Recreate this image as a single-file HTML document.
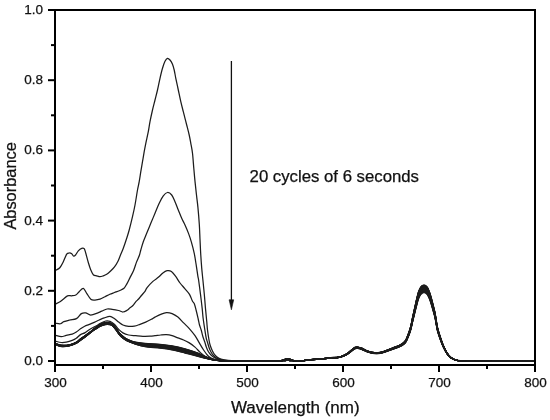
<!DOCTYPE html>
<html><head><meta charset="utf-8"><title>Absorbance spectra</title>
<style>html,body{margin:0;padding:0;background:#fff;}body{width:550px;height:420px;overflow:hidden;font-family:"Liberation Sans",sans-serif;}svg{display:block;}</style>
</head><body>
<svg width="550" height="420" viewBox="0 0 550 420" style="will-change:transform">
<rect width="550" height="420" fill="#fff"/>
<g fill="none" stroke="#1c1c1c" stroke-linejoin="round" stroke-linecap="round">
<path stroke-width="1.25" d="M55.50,343.45C56.47,343.73 58.93,344.93 61.30,345.15C63.67,345.37 67.20,345.23 69.70,344.75C72.20,344.27 74.50,343.23 76.30,342.25C78.10,341.27 79.10,339.90 80.50,338.85C81.90,337.80 83.32,336.92 84.70,335.95C86.08,334.98 87.42,334.08 88.80,333.05C90.18,332.02 91.72,330.80 93.00,329.75C94.28,328.70 95.33,327.68 96.50,326.75C97.67,325.82 98.58,324.85 100.00,324.15C101.42,323.45 103.75,322.85 105.00,322.55C106.25,322.25 106.67,322.30 107.50,322.35C108.33,322.40 109.20,322.57 110.00,322.85C110.80,323.13 111.30,323.18 112.30,324.05C113.30,324.92 114.80,326.55 116.00,328.05C117.20,329.55 118.33,331.67 119.50,333.05C120.67,334.43 121.78,335.37 123.00,336.35C124.22,337.33 124.95,338.03 126.80,338.95C128.65,339.87 131.07,341.10 134.10,341.85C137.13,342.60 140.68,343.05 145.00,343.45C149.32,343.85 155.50,343.87 160.00,344.25C164.50,344.63 167.83,345.00 172.00,345.75C176.17,346.50 180.67,347.53 185.00,348.75C189.33,349.97 194.67,351.75 198.00,353.05C201.33,354.35 202.67,355.53 205.00,356.55C207.33,357.57 209.50,358.48 212.00,359.15C214.50,359.82 217.00,360.26 220.00,360.55C223.00,360.84 226.67,360.88 230.00,360.90C233.33,360.92 236.67,360.70 240.00,360.66C243.33,360.62 246.67,360.68 250.00,360.66C253.33,360.65 256.67,360.57 260.00,360.57C263.33,360.57 267.33,360.65 270.00,360.66C272.67,360.67 274.33,360.65 276.00,360.66C277.67,360.67 279.17,360.71 280.00,360.74C280.83,360.76 280.50,360.81 281.00,360.81C281.50,360.81 282.33,360.76 283.00,360.73C283.67,360.69 284.42,360.62 285.00,360.58C285.58,360.54 286.07,360.51 286.50,360.49C286.93,360.47 287.23,360.47 287.60,360.47C287.97,360.47 288.30,360.47 288.70,360.49C289.10,360.51 289.42,360.53 290.00,360.57C290.58,360.61 291.50,360.69 292.20,360.73C292.90,360.77 293.57,360.75 294.20,360.81C294.83,360.87 294.73,361.10 296.00,361.10C297.27,361.11 299.62,361.02 301.80,360.84C303.98,360.66 306.67,360.27 309.10,360.03C311.53,359.79 313.98,359.59 316.40,359.40C318.82,359.21 321.18,359.09 323.60,358.86C326.02,358.63 328.47,358.26 330.90,358.05C333.33,357.84 336.27,357.85 338.20,357.60C340.13,357.34 341.05,357.03 342.50,356.52C343.95,356.01 345.43,355.41 346.90,354.54C348.37,353.67 349.97,352.26 351.30,351.30C352.63,350.34 353.87,349.26 354.90,348.78C355.93,348.30 356.35,348.30 357.50,348.42C358.65,348.54 360.17,348.92 361.80,349.50C363.43,350.08 365.48,351.30 367.30,351.93C369.12,352.56 370.88,353.01 372.70,353.28C374.52,353.55 376.38,353.69 378.20,353.55C380.02,353.42 382.22,352.82 383.60,352.47C384.98,352.12 384.92,352.03 386.50,351.48C388.08,350.92 390.92,349.92 393.10,349.14C395.28,348.36 397.85,347.58 399.60,346.80C401.35,346.02 402.50,345.35 403.60,344.46C404.70,343.58 405.33,342.98 406.20,341.49C407.07,340.00 408.03,337.51 408.80,335.55C409.57,333.59 410.15,332.06 410.80,329.70C411.45,327.34 412.05,324.17 412.70,321.42C413.35,318.68 414.03,315.93 414.70,313.23C415.37,310.53 416.07,307.61 416.70,305.22C417.33,302.84 417.87,300.65 418.50,298.92C419.13,297.19 419.83,295.85 420.50,294.87C421.17,293.89 421.92,293.44 422.50,293.07C423.08,292.69 423.50,292.62 424.00,292.62C424.50,292.62 424.92,292.69 425.50,293.07C426.08,293.44 426.82,293.82 427.50,294.87C428.18,295.92 428.95,297.72 429.60,299.37C430.25,301.02 430.80,302.82 431.40,304.77C432.00,306.72 432.60,308.91 433.20,311.07C433.80,313.23 434.47,315.34 435.00,317.73C435.53,320.11 435.98,323.17 436.40,325.38C436.82,327.59 436.88,328.70 437.50,330.96C438.12,333.23 439.13,336.29 440.10,338.97C441.07,341.66 442.13,344.58 443.30,347.07C444.47,349.56 445.83,352.11 447.10,353.91C448.37,355.71 449.42,356.82 450.90,357.87C452.38,358.92 453.88,359.69 456.00,360.21C458.12,360.74 461.27,360.84 463.60,361.02C465.93,361.20 467.27,361.26 470.00,361.29C472.73,361.32 475.00,361.20 480.00,361.20C485.00,361.20 493.33,361.26 500.00,361.29C506.67,361.32 514.33,361.35 520.00,361.38C525.67,361.41 531.67,361.46 534.00,361.47"/>
<path stroke-width="1.25" d="M55.50,343.53C56.47,343.82 58.93,345.04 61.30,345.26C63.67,345.47 67.20,345.32 69.70,344.83C72.20,344.34 74.50,343.31 76.30,342.33C78.10,341.35 79.10,340.00 80.50,338.96C81.90,337.91 83.32,337.03 84.70,336.06C86.08,335.09 87.42,334.17 88.80,333.13C90.18,332.09 91.72,330.87 93.00,329.83C94.28,328.79 95.33,327.81 96.50,326.90C97.67,325.98 98.58,325.03 100.00,324.33C101.42,323.64 103.75,323.02 105.00,322.72C106.25,322.42 106.67,322.47 107.50,322.51C108.33,322.56 109.20,322.72 110.00,323.00C110.80,323.27 111.30,323.31 112.30,324.17C113.30,325.04 114.80,326.69 116.00,328.20C117.20,329.70 118.33,331.81 119.50,333.20C120.67,334.58 121.78,335.51 123.00,336.50C124.22,337.48 124.95,338.17 126.80,339.09C128.65,340.00 131.07,341.22 134.10,341.99C137.13,342.76 140.68,343.27 145.00,343.70C149.32,344.12 155.50,344.15 160.00,344.54C164.50,344.94 167.83,345.31 172.00,346.07C176.17,346.82 180.67,347.87 185.00,349.08C189.33,350.29 194.67,352.04 198.00,353.30C201.33,354.57 202.67,355.70 205.00,356.68C207.33,357.66 209.50,358.54 212.00,359.19C214.50,359.83 217.00,360.27 220.00,360.56C223.00,360.84 226.67,360.88 230.00,360.90C233.33,360.92 236.67,360.70 240.00,360.66C243.33,360.61 246.67,360.67 250.00,360.66C253.33,360.64 256.67,360.56 260.00,360.56C263.33,360.56 267.33,360.64 270.00,360.66C272.67,360.67 274.33,360.65 276.00,360.65C277.67,360.66 279.17,360.68 280.00,360.69C280.83,360.70 280.50,360.76 281.00,360.71C281.50,360.66 282.33,360.53 283.00,360.38C283.67,360.23 284.42,359.96 285.00,359.80C285.58,359.64 286.07,359.50 286.50,359.42C286.93,359.34 287.23,359.32 287.60,359.32C287.97,359.32 288.30,359.35 288.70,359.42C289.10,359.49 289.42,359.58 290.00,359.74C290.58,359.90 291.50,360.22 292.20,360.38C292.90,360.54 293.57,360.59 294.20,360.71C294.83,360.83 294.73,361.06 296.00,361.08C297.27,361.10 299.62,361.01 301.80,360.84C303.98,360.66 306.67,360.26 309.10,360.02C311.53,359.78 313.98,359.58 316.40,359.38C318.82,359.19 321.18,359.07 323.60,358.84C326.02,358.61 328.47,358.23 330.90,358.02C333.33,357.81 336.27,357.83 338.20,357.57C340.13,357.31 341.05,356.99 342.50,356.48C343.95,355.97 345.43,355.36 346.90,354.48C348.37,353.61 349.97,352.18 351.30,351.22C352.63,350.25 353.87,349.16 354.90,348.67C355.93,348.19 356.35,348.19 357.50,348.31C358.65,348.43 360.17,348.81 361.80,349.40C363.43,349.99 365.48,351.22 367.30,351.85C369.12,352.49 370.88,352.94 372.70,353.21C374.52,353.48 376.38,353.62 378.20,353.48C380.02,353.35 382.22,352.74 383.60,352.40C384.98,352.05 384.92,351.96 386.50,351.40C388.08,350.84 390.92,349.82 393.10,349.04C395.28,348.25 397.85,347.46 399.60,346.68C401.35,345.89 402.50,345.21 403.60,344.32C404.70,343.42 405.33,342.82 406.20,341.32C407.07,339.82 408.03,337.31 408.80,335.33C409.57,333.35 410.15,331.81 410.80,329.43C411.45,327.06 412.05,323.85 412.70,321.08C413.35,318.31 414.03,315.54 414.70,312.82C415.37,310.10 416.07,307.15 416.70,304.74C417.33,302.34 417.87,300.13 418.50,298.39C419.13,296.65 419.83,295.29 420.50,294.30C421.17,293.32 421.92,292.87 422.50,292.49C423.08,292.11 423.50,292.03 424.00,292.03C424.50,292.03 424.92,292.11 425.50,292.49C426.08,292.87 426.82,293.24 427.50,294.30C428.18,295.36 428.95,297.18 429.60,298.84C430.25,300.51 430.80,302.32 431.40,304.29C432.00,306.25 432.60,308.46 433.20,310.64C433.80,312.82 434.47,314.95 435.00,317.36C435.53,319.76 435.98,322.85 436.40,325.07C436.82,327.30 436.88,328.42 437.50,330.70C438.12,332.99 439.13,336.07 440.10,338.78C441.07,341.49 442.13,344.44 443.30,346.95C444.47,349.46 445.83,352.03 447.10,353.85C448.37,355.66 449.42,356.78 450.90,357.84C452.38,358.90 453.88,359.67 456.00,360.20C458.12,360.73 461.27,360.84 463.60,361.02C465.93,361.20 467.27,361.26 470.00,361.29C472.73,361.32 475.00,361.20 480.00,361.20C485.00,361.20 493.33,361.26 500.00,361.29C506.67,361.32 514.33,361.35 520.00,361.38C525.67,361.41 531.67,361.46 534.00,361.47"/>
<path stroke-width="1.25" d="M55.50,343.60C56.47,343.90 58.93,345.15 61.30,345.37C63.67,345.58 67.20,345.40 69.70,344.90C72.20,344.41 74.50,343.38 76.30,342.40C78.10,341.43 79.10,340.11 80.50,339.07C81.90,338.03 83.32,337.14 84.70,336.17C86.08,335.19 87.42,334.25 88.80,333.20C90.18,332.16 91.72,330.93 93.00,329.90C94.28,328.88 95.33,327.94 96.50,327.04C97.67,326.14 98.58,325.21 100.00,324.52C101.42,323.83 103.75,323.20 105.00,322.89C106.25,322.58 106.67,322.63 107.50,322.67C108.33,322.72 109.20,322.87 110.00,323.14C110.80,323.41 111.30,323.43 112.30,324.30C113.30,325.16 114.80,326.83 116.00,328.34C117.20,329.85 118.33,331.96 119.50,333.34C120.67,334.73 121.78,335.66 123.00,336.64C124.22,337.62 124.95,338.31 126.80,339.23C128.65,340.14 131.07,341.34 134.10,342.13C137.13,342.91 140.68,343.49 145.00,343.94C149.32,344.39 155.50,344.43 160.00,344.83C164.50,345.24 167.83,345.62 172.00,346.38C176.17,347.14 180.67,348.22 185.00,349.41C189.33,350.61 194.67,352.32 198.00,353.56C201.33,354.79 202.67,355.87 205.00,356.81C207.33,357.76 209.50,358.60 212.00,359.23C214.50,359.85 217.00,360.29 220.00,360.57C223.00,360.84 226.67,360.89 230.00,360.90C233.33,360.91 236.67,360.69 240.00,360.65C243.33,360.61 246.67,360.67 250.00,360.65C253.33,360.64 256.67,360.56 260.00,360.56C263.33,360.56 267.33,360.64 270.00,360.65C272.67,360.67 274.33,360.64 276.00,360.65C277.67,360.66 279.17,360.70 280.00,360.73C280.83,360.75 280.50,360.80 281.00,360.80C281.50,360.80 282.33,360.76 283.00,360.72C283.67,360.68 284.42,360.62 285.00,360.58C285.58,360.54 286.07,360.50 286.50,360.48C286.93,360.46 287.23,360.46 287.60,360.46C287.97,360.46 288.30,360.47 288.70,360.48C289.10,360.50 289.42,360.52 290.00,360.56C290.58,360.60 291.50,360.68 292.20,360.72C292.90,360.76 293.57,360.74 294.20,360.80C294.83,360.87 294.73,361.10 296.00,361.10C297.27,361.11 299.62,361.02 301.80,360.83C303.98,360.65 306.67,360.25 309.10,360.01C311.53,359.77 313.98,359.57 316.40,359.37C318.82,359.17 321.18,359.05 323.60,358.82C326.02,358.59 328.47,358.21 330.90,358.00C333.33,357.78 336.27,357.80 338.20,357.54C340.13,357.28 341.05,356.96 342.50,356.44C343.95,355.92 345.43,355.31 346.90,354.43C348.37,353.54 349.97,352.11 351.30,351.13C352.63,350.15 353.87,349.06 354.90,348.57C355.93,348.08 356.35,348.08 357.50,348.20C358.65,348.32 360.17,348.71 361.80,349.30C363.43,349.89 365.48,351.13 367.30,351.77C369.12,352.41 370.88,352.87 372.70,353.14C374.52,353.42 376.38,353.56 378.20,353.42C380.02,353.28 382.22,352.67 383.60,352.32C384.98,351.97 384.92,351.88 386.50,351.31C388.08,350.75 390.92,349.73 393.10,348.93C395.28,348.14 397.85,347.35 399.60,346.55C401.35,345.76 402.50,345.07 403.60,344.17C404.70,343.27 405.33,342.66 406.20,341.15C407.07,339.64 408.03,337.11 408.80,335.11C409.57,333.11 410.15,331.56 410.80,329.16C411.45,326.77 412.05,323.53 412.70,320.74C413.35,317.95 414.03,315.16 414.70,312.41C415.37,309.66 416.07,306.69 416.70,304.26C417.33,301.84 417.87,299.61 418.50,297.86C419.13,296.10 419.83,294.73 420.50,293.74C421.17,292.74 421.92,292.29 422.50,291.91C423.08,291.52 423.50,291.45 424.00,291.45C424.50,291.45 424.92,291.52 425.50,291.91C426.08,292.29 426.82,292.67 427.50,293.74C428.18,294.80 428.95,296.63 429.60,298.31C430.25,299.99 430.80,301.82 431.40,303.81C432.00,305.79 432.60,308.02 433.20,310.21C433.80,312.41 434.47,314.56 435.00,316.99C435.53,319.41 435.98,322.52 436.40,324.77C436.82,327.01 436.88,328.14 437.50,330.44C438.12,332.75 439.13,335.86 440.10,338.59C441.07,341.32 442.13,344.30 443.30,346.83C444.47,349.36 445.83,351.95 447.10,353.79C448.37,355.62 449.42,356.75 450.90,357.81C452.38,358.88 453.88,359.66 456.00,360.19C458.12,360.73 461.27,360.83 463.60,361.02C465.93,361.20 467.27,361.26 470.00,361.29C472.73,361.32 475.00,361.20 480.00,361.20C485.00,361.20 493.33,361.26 500.00,361.29C506.67,361.32 514.33,361.35 520.00,361.38C525.67,361.41 531.67,361.46 534.00,361.47"/>
<path stroke-width="1.25" d="M55.50,343.68C56.47,343.98 58.93,345.26 61.30,345.47C63.67,345.69 67.20,345.48 69.70,344.98C72.20,344.48 74.50,343.45 76.30,342.48C78.10,341.51 79.10,340.21 80.50,339.17C81.90,338.14 83.32,337.26 84.70,336.27C86.08,335.29 87.42,334.33 88.80,333.28C90.18,332.23 91.72,331.00 93.00,329.98C94.28,328.97 95.33,328.07 96.50,327.19C97.67,326.31 98.58,325.39 100.00,324.70C101.42,324.02 103.75,323.37 105.00,323.06C106.25,322.75 106.67,322.80 107.50,322.83C108.33,322.87 109.20,323.02 110.00,323.29C110.80,323.55 111.30,323.55 112.30,324.42C113.30,325.29 114.80,326.98 116.00,328.49C117.20,330.00 118.33,332.11 119.50,333.49C120.67,334.87 121.78,335.81 123.00,336.79C124.22,337.77 124.95,338.45 126.80,339.37C128.65,340.28 131.07,341.46 134.10,342.27C137.13,343.07 140.68,343.71 145.00,344.19C149.32,344.67 155.50,344.71 160.00,345.13C164.50,345.54 167.83,345.93 172.00,346.70C176.17,347.47 180.67,348.56 185.00,349.74C189.33,350.93 194.67,352.61 198.00,353.81C201.33,355.01 202.67,356.03 205.00,356.94C207.33,357.85 209.50,358.66 212.00,359.27C214.50,359.87 217.00,360.30 220.00,360.57C223.00,360.85 226.67,360.89 230.00,360.90C233.33,360.91 236.67,360.69 240.00,360.65C243.33,360.60 246.67,360.66 250.00,360.65C253.33,360.63 256.67,360.55 260.00,360.55C263.33,360.55 267.33,360.63 270.00,360.65C272.67,360.66 274.33,360.64 276.00,360.65C277.67,360.65 279.17,360.67 280.00,360.68C280.83,360.69 280.50,360.75 281.00,360.70C281.50,360.65 282.33,360.52 283.00,360.37C283.67,360.22 284.42,359.96 285.00,359.80C285.58,359.64 286.07,359.49 286.50,359.41C286.93,359.33 287.23,359.31 287.60,359.31C287.97,359.31 288.30,359.34 288.70,359.41C289.10,359.48 289.42,359.57 290.00,359.73C290.58,359.89 291.50,360.21 292.20,360.37C292.90,360.53 293.57,360.58 294.20,360.70C294.83,360.82 294.73,361.06 296.00,361.08C297.27,361.10 299.62,361.01 301.80,360.83C303.98,360.65 306.67,360.25 309.10,360.00C311.53,359.75 313.98,359.55 316.40,359.35C318.82,359.15 321.18,359.03 323.60,358.80C326.02,358.57 328.47,358.18 330.90,357.97C333.33,357.75 336.27,357.77 338.20,357.51C340.13,357.25 341.05,356.92 342.50,356.40C343.95,355.88 345.43,355.26 346.90,354.37C348.37,353.48 349.97,352.03 351.30,351.05C352.63,350.06 353.87,348.95 354.90,348.46C355.93,347.97 356.35,347.97 357.50,348.09C358.65,348.22 360.17,348.60 361.80,349.20C363.43,349.80 365.48,351.05 367.30,351.69C369.12,352.34 370.88,352.80 372.70,353.08C374.52,353.35 376.38,353.49 378.20,353.35C380.02,353.22 382.22,352.60 383.60,352.25C384.98,351.89 384.92,351.80 386.50,351.23C388.08,350.66 390.92,349.63 393.10,348.83C395.28,348.03 397.85,347.23 399.60,346.43C401.35,345.63 402.50,344.94 403.60,344.03C404.70,343.12 405.33,342.51 406.20,340.98C407.07,339.46 408.03,336.91 408.80,334.89C409.57,332.88 410.15,331.31 410.80,328.89C411.45,326.48 412.05,323.22 412.70,320.40C413.35,317.58 414.03,314.77 414.70,312.00C415.37,309.23 416.07,306.23 416.70,303.78C417.33,301.34 417.87,299.09 418.50,297.32C419.13,295.55 419.83,294.17 420.50,293.17C421.17,292.17 421.92,291.71 422.50,291.32C423.08,290.94 423.50,290.86 424.00,290.86C424.50,290.86 424.92,290.94 425.50,291.32C426.08,291.71 426.82,292.09 427.50,293.17C428.18,294.25 428.95,296.09 429.60,297.78C430.25,299.48 430.80,301.32 431.40,303.32C432.00,305.32 432.60,307.57 433.20,309.78C433.80,312.00 434.47,314.17 435.00,316.62C435.53,319.06 435.98,322.20 436.40,324.46C436.82,326.72 436.88,327.86 437.50,330.18C438.12,332.51 439.13,335.65 440.10,338.40C441.07,341.15 442.13,344.15 443.30,346.71C444.47,349.26 445.83,351.88 447.10,353.72C448.37,355.57 449.42,356.71 450.90,357.78C452.38,358.86 453.88,359.65 456.00,360.18C458.12,360.72 461.27,360.83 463.60,361.02C465.93,361.20 467.27,361.26 470.00,361.29C472.73,361.32 475.00,361.20 480.00,361.20C485.00,361.20 493.33,361.26 500.00,361.29C506.67,361.32 514.33,361.35 520.00,361.38C525.67,361.42 531.67,361.46 534.00,361.48"/>
<path stroke-width="1.25" d="M55.50,343.76C56.47,344.06 58.93,345.36 61.30,345.58C63.67,345.80 67.20,345.56 69.70,345.06C72.20,344.55 74.50,343.52 76.30,342.56C78.10,341.59 79.10,340.31 80.50,339.28C81.90,338.25 83.32,337.37 84.70,336.38C86.08,335.39 87.42,334.41 88.80,333.36C90.18,332.30 91.72,331.06 93.00,330.06C94.28,329.05 95.33,328.20 96.50,327.33C97.67,326.47 98.58,325.57 100.00,324.89C101.42,324.20 103.75,323.54 105.00,323.23C106.25,322.91 106.67,322.96 107.50,323.00C108.33,323.03 109.20,323.18 110.00,323.43C110.80,323.69 111.30,323.68 112.30,324.54C113.30,325.41 114.80,327.12 116.00,328.63C117.20,330.15 118.33,332.25 119.50,333.63C120.67,335.02 121.78,335.96 123.00,336.93C124.22,337.91 124.95,338.59 126.80,339.50C128.65,340.42 131.07,341.58 134.10,342.40C137.13,343.23 140.68,343.93 145.00,344.43C149.32,344.94 155.50,344.99 160.00,345.42C164.50,345.85 167.83,346.24 172.00,347.01C176.17,347.79 180.67,348.90 185.00,350.07C189.33,351.25 194.67,352.90 198.00,354.07C201.33,355.23 202.67,356.20 205.00,357.07C207.33,357.95 209.50,358.72 212.00,359.30C214.50,359.89 217.00,360.31 220.00,360.58C223.00,360.85 226.67,360.89 230.00,360.90C233.33,360.91 236.67,360.68 240.00,360.64C243.33,360.60 246.67,360.66 250.00,360.64C253.33,360.63 256.67,360.55 260.00,360.55C263.33,360.55 267.33,360.63 270.00,360.64C272.67,360.66 274.33,360.63 276.00,360.64C277.67,360.65 279.17,360.69 280.00,360.72C280.83,360.75 280.50,360.80 281.00,360.80C281.50,360.79 282.33,360.75 283.00,360.71C283.67,360.68 284.42,360.61 285.00,360.57C285.58,360.53 286.07,360.50 286.50,360.48C286.93,360.46 287.23,360.45 287.60,360.45C287.97,360.45 288.30,360.46 288.70,360.48C289.10,360.49 289.42,360.52 290.00,360.56C290.58,360.60 291.50,360.67 292.20,360.71C292.90,360.75 293.57,360.73 294.20,360.80C294.83,360.86 294.73,361.09 296.00,361.10C297.27,361.11 299.62,361.01 301.80,360.83C303.98,360.64 306.67,360.24 309.10,359.99C311.53,359.74 313.98,359.54 316.40,359.34C318.82,359.14 321.18,359.01 323.60,358.78C326.02,358.55 328.47,358.16 330.90,357.94C333.33,357.73 336.27,357.74 338.20,357.48C340.13,357.21 341.05,356.89 342.50,356.36C343.95,355.83 345.43,355.21 346.90,354.31C348.37,353.41 349.97,351.95 351.30,350.96C352.63,349.97 353.87,348.85 354.90,348.36C355.93,347.86 356.35,347.86 357.50,347.98C358.65,348.11 360.17,348.49 361.80,349.10C363.43,349.70 365.48,350.96 367.30,351.61C369.12,352.26 370.88,352.73 372.70,353.01C374.52,353.29 376.38,353.43 378.20,353.29C380.02,353.15 382.22,352.53 383.60,352.17C384.98,351.81 384.92,351.72 386.50,351.15C388.08,350.57 390.92,349.53 393.10,348.73C395.28,347.92 397.85,347.11 399.60,346.31C401.35,345.50 402.50,344.80 403.60,343.89C404.70,342.97 405.33,342.35 406.20,340.82C407.07,339.28 408.03,336.71 408.80,334.67C409.57,332.64 410.15,331.06 410.80,328.62C411.45,326.19 412.05,322.90 412.70,320.06C413.35,317.22 414.03,314.38 414.70,311.59C415.37,308.80 416.07,305.77 416.70,303.31C417.33,300.84 417.87,298.57 418.50,296.79C419.13,295.01 419.83,293.61 420.50,292.60C421.17,291.59 421.92,291.13 422.50,290.74C423.08,290.35 423.50,290.28 424.00,290.28C424.50,290.28 424.92,290.35 425.50,290.74C426.08,291.13 426.82,291.52 427.50,292.60C428.18,293.69 428.95,295.55 429.60,297.26C430.25,298.96 430.80,300.82 431.40,302.84C432.00,304.86 432.60,307.12 433.20,309.36C433.80,311.59 434.47,313.78 435.00,316.24C435.53,318.71 435.98,321.88 436.40,324.16C436.82,326.44 436.88,327.58 437.50,329.93C438.12,332.27 439.13,335.43 440.10,338.21C441.07,340.99 442.13,344.01 443.30,346.59C444.47,349.16 445.83,351.80 447.10,353.66C448.37,355.52 449.42,356.67 450.90,357.76C452.38,358.84 453.88,359.63 456.00,360.18C458.12,360.72 461.27,360.83 463.60,361.01C465.93,361.20 467.27,361.26 470.00,361.29C472.73,361.32 475.00,361.20 480.00,361.20C485.00,361.20 493.33,361.26 500.00,361.29C506.67,361.32 514.33,361.36 520.00,361.39C525.67,361.42 531.67,361.46 534.00,361.48"/>
<path stroke-width="1.25" d="M55.50,343.83C56.47,344.14 58.93,345.47 61.30,345.69C63.67,345.91 67.20,345.64 69.70,345.13C72.20,344.63 74.50,343.59 76.30,342.63C78.10,341.68 79.10,340.41 80.50,339.39C81.90,338.36 83.32,337.48 84.70,336.49C86.08,335.50 87.42,334.49 88.80,333.43C90.18,332.38 91.72,331.13 93.00,330.13C94.28,329.14 95.33,328.32 96.50,327.48C97.67,326.64 98.58,325.75 100.00,325.07C101.42,324.39 103.75,323.72 105.00,323.40C106.25,323.08 106.67,323.13 107.50,323.16C108.33,323.19 109.20,323.33 110.00,323.58C110.80,323.83 111.30,323.80 112.30,324.67C113.30,325.53 114.80,327.26 116.00,328.78C117.20,330.30 118.33,332.40 119.50,333.78C120.67,335.16 121.78,336.10 123.00,337.08C124.22,338.06 124.95,338.73 126.80,339.64C128.65,340.55 131.07,341.70 134.10,342.54C137.13,343.38 140.68,344.15 145.00,344.68C149.32,345.21 155.50,345.27 160.00,345.71C164.50,346.15 167.83,346.54 172.00,347.33C176.17,348.11 180.67,349.24 185.00,350.40C189.33,351.57 194.67,353.19 198.00,354.32C201.33,355.45 202.67,356.37 205.00,357.20C207.33,358.04 209.50,358.78 212.00,359.34C214.50,359.91 217.00,360.33 220.00,360.59C223.00,360.85 226.67,360.89 230.00,360.90C233.33,360.91 236.67,360.68 240.00,360.64C243.33,360.59 246.67,360.65 250.00,360.64C253.33,360.62 256.67,360.54 260.00,360.54C263.33,360.54 267.33,360.62 270.00,360.64C272.67,360.65 274.33,360.63 276.00,360.64C277.67,360.64 279.17,360.66 280.00,360.67C280.83,360.68 280.50,360.75 281.00,360.70C281.50,360.64 282.33,360.52 283.00,360.37C283.67,360.22 284.42,359.95 285.00,359.79C285.58,359.63 286.07,359.49 286.50,359.41C286.93,359.33 287.23,359.31 287.60,359.31C287.97,359.31 288.30,359.34 288.70,359.41C289.10,359.48 289.42,359.57 290.00,359.73C290.58,359.89 291.50,360.21 292.20,360.37C292.90,360.53 293.57,360.58 294.20,360.70C294.83,360.81 294.73,361.06 296.00,361.08C297.27,361.10 299.62,361.01 301.80,360.82C303.98,360.64 306.67,360.23 309.10,359.98C311.53,359.73 313.98,359.53 316.40,359.32C318.82,359.12 321.18,358.99 323.60,358.76C326.02,358.53 328.47,358.13 330.90,357.92C333.33,357.70 336.27,357.71 338.20,357.45C340.13,357.18 341.05,356.85 342.50,356.32C343.95,355.79 345.43,355.16 346.90,354.26C348.37,353.35 349.97,351.88 351.30,350.88C352.63,349.88 353.87,348.75 354.90,348.25C355.93,347.75 356.35,347.75 357.50,347.87C358.65,348.00 360.17,348.39 361.80,349.00C363.43,349.61 365.48,350.88 367.30,351.53C369.12,352.19 370.88,352.66 372.70,352.94C374.52,353.22 376.38,353.36 378.20,353.22C380.02,353.08 382.22,352.46 383.60,352.10C384.98,351.74 384.92,351.64 386.50,351.06C388.08,350.49 390.92,349.44 393.10,348.62C395.28,347.81 397.85,347.00 399.60,346.18C401.35,345.37 402.50,344.67 403.60,343.74C404.70,342.82 405.33,342.20 406.20,340.65C407.07,339.10 408.03,336.50 408.80,334.45C409.57,332.40 410.15,330.81 410.80,328.35C411.45,325.90 412.05,322.58 412.70,319.72C413.35,316.86 414.03,314.00 414.70,311.18C415.37,308.36 416.07,305.31 416.70,302.83C417.33,300.34 417.87,298.06 418.50,296.26C419.13,294.46 419.83,293.05 420.50,292.04C421.17,291.02 421.92,290.55 422.50,290.16C423.08,289.77 423.50,289.69 424.00,289.69C424.50,289.69 424.92,289.77 425.50,290.16C426.08,290.55 426.82,290.94 427.50,292.04C428.18,293.13 428.95,295.01 429.60,296.73C430.25,298.45 430.80,300.33 431.40,302.36C432.00,304.39 432.60,306.68 433.20,308.93C433.80,311.18 434.47,313.39 435.00,315.87C435.53,318.36 435.98,321.55 436.40,323.85C436.82,326.15 436.88,327.31 437.50,329.67C438.12,332.03 439.13,335.22 440.10,338.02C441.07,340.82 442.13,343.87 443.30,346.47C444.47,349.06 445.83,351.72 447.10,353.60C448.37,355.48 449.42,356.63 450.90,357.73C452.38,358.82 453.88,359.62 456.00,360.17C458.12,360.72 461.27,360.82 463.60,361.01C465.93,361.20 467.27,361.26 470.00,361.29C472.73,361.33 475.00,361.20 480.00,361.20C485.00,361.20 493.33,361.26 500.00,361.29C506.67,361.33 514.33,361.36 520.00,361.39C525.67,361.42 531.67,361.47 534.00,361.48"/>
<path stroke-width="1.25" d="M55.50,343.91C56.47,344.23 58.93,345.58 61.30,345.80C63.67,346.01 67.20,345.73 69.70,345.21C72.20,344.70 74.50,343.66 76.30,342.71C78.10,341.76 79.10,340.52 80.50,339.50C81.90,338.48 83.32,337.59 84.70,336.60C86.08,335.60 87.42,334.58 88.80,333.51C90.18,332.45 91.72,331.19 93.00,330.21C94.28,329.23 95.33,328.45 96.50,327.63C97.67,326.80 98.58,325.93 100.00,325.26C101.42,324.58 103.75,323.89 105.00,323.57C106.25,323.24 106.67,323.29 107.50,323.32C108.33,323.35 109.20,323.48 110.00,323.73C110.80,323.97 111.30,323.92 112.30,324.79C113.30,325.66 114.80,327.40 116.00,328.93C117.20,330.45 118.33,332.54 119.50,333.93C120.67,335.31 121.78,336.25 123.00,337.23C124.22,338.20 124.95,338.87 126.80,339.78C128.65,340.69 131.07,341.82 134.10,342.68C137.13,343.54 140.68,344.37 145.00,344.93C149.32,345.48 155.50,345.55 160.00,346.00C164.50,346.46 167.83,346.85 172.00,347.64C176.17,348.43 180.67,349.58 185.00,350.73C189.33,351.89 194.67,353.47 198.00,354.57C201.33,355.67 202.67,356.53 205.00,357.33C207.33,358.14 209.50,358.84 212.00,359.38C214.50,359.92 217.00,360.34 220.00,360.60C223.00,360.85 226.67,360.89 230.00,360.90C233.33,360.91 236.67,360.68 240.00,360.63C243.33,360.59 246.67,360.65 250.00,360.63C253.33,360.62 256.67,360.54 260.00,360.54C263.33,360.54 267.33,360.62 270.00,360.63C272.67,360.65 274.33,360.62 276.00,360.63C277.67,360.65 279.17,360.69 280.00,360.71C280.83,360.74 280.50,360.79 281.00,360.79C281.50,360.79 282.33,360.75 283.00,360.71C283.67,360.67 284.42,360.61 285.00,360.57C285.58,360.53 286.07,360.49 286.50,360.47C286.93,360.45 287.23,360.45 287.60,360.45C287.97,360.45 288.30,360.45 288.70,360.47C289.10,360.49 289.42,360.51 290.00,360.55C290.58,360.59 291.50,360.67 292.20,360.71C292.90,360.75 293.57,360.72 294.20,360.79C294.83,360.85 294.73,361.09 296.00,361.10C297.27,361.10 299.62,361.01 301.80,360.82C303.98,360.63 306.67,360.22 309.10,359.97C311.53,359.72 313.98,359.51 316.40,359.31C318.82,359.10 321.18,358.98 323.60,358.74C326.02,358.50 328.47,358.11 330.90,357.89C333.33,357.67 336.27,357.68 338.20,357.42C340.13,357.15 341.05,356.82 342.50,356.28C343.95,355.74 345.43,355.11 346.90,354.20C348.37,353.28 349.97,351.80 351.30,350.79C352.63,349.78 353.87,348.65 354.90,348.14C355.93,347.64 356.35,347.64 357.50,347.76C358.65,347.89 360.17,348.28 361.80,348.90C363.43,349.51 365.48,350.79 367.30,351.45C369.12,352.12 370.88,352.59 372.70,352.87C374.52,353.16 376.38,353.30 378.20,353.16C380.02,353.02 382.22,352.38 383.60,352.02C384.98,351.66 384.92,351.56 386.50,350.98C388.08,350.40 390.92,349.34 393.10,348.52C395.28,347.70 397.85,346.88 399.60,346.06C401.35,345.24 402.50,344.53 403.60,343.60C404.70,342.67 405.33,342.04 406.20,340.48C407.07,338.92 408.03,336.30 408.80,334.23C409.57,332.17 410.15,330.56 410.80,328.08C411.45,325.61 412.05,322.27 412.70,319.38C413.35,316.49 414.03,313.61 414.70,310.77C415.37,307.93 416.07,304.86 416.70,302.35C417.33,299.84 417.87,297.54 418.50,295.73C419.13,293.91 419.83,292.49 420.50,291.47C421.17,290.44 421.92,289.97 422.50,289.58C423.08,289.18 423.50,289.10 424.00,289.10C424.50,289.10 424.92,289.18 425.50,289.58C426.08,289.97 426.82,290.36 427.50,291.47C428.18,292.57 428.95,294.46 429.60,296.20C430.25,297.93 430.80,299.83 431.40,301.88C432.00,303.93 432.60,306.23 433.20,308.50C433.80,310.77 434.47,312.99 435.00,315.50C435.53,318.01 435.98,321.22 436.40,323.54C436.82,325.86 436.88,327.03 437.50,329.41C438.12,331.79 439.13,335.01 440.10,337.83C441.07,340.65 442.13,343.73 443.30,346.35C444.47,348.96 445.83,351.64 447.10,353.54C448.37,355.43 449.42,356.60 450.90,357.70C452.38,358.80 453.88,359.61 456.00,360.16C458.12,360.71 461.27,360.82 463.60,361.01C465.93,361.20 467.27,361.26 470.00,361.29C472.73,361.33 475.00,361.20 480.00,361.20C485.00,361.20 493.33,361.26 500.00,361.29C506.67,361.33 514.33,361.36 520.00,361.39C525.67,361.42 531.67,361.47 534.00,361.48"/>
<path stroke-width="1.25" d="M55.50,343.99C56.47,344.31 58.93,345.69 61.30,345.90C63.67,346.12 67.20,345.81 69.70,345.29C72.20,344.77 74.50,343.74 76.30,342.79C78.10,341.84 79.10,340.62 80.50,339.60C81.90,338.59 83.32,337.71 84.70,336.70C86.08,335.70 87.42,334.66 88.80,333.59C90.18,332.52 91.72,331.26 93.00,330.29C94.28,329.32 95.33,328.58 96.50,327.77C97.67,326.97 98.58,326.12 100.00,325.44C101.42,324.77 103.75,324.06 105.00,323.73C106.25,323.41 106.67,323.46 107.50,323.48C108.33,323.50 109.20,323.63 110.00,323.87C110.80,324.11 111.30,324.04 112.30,324.91C113.30,325.78 114.80,327.55 116.00,329.07C117.20,330.60 118.33,332.69 119.50,334.07C120.67,335.46 121.78,336.40 123.00,337.37C124.22,338.35 124.95,339.01 126.80,339.92C128.65,340.83 131.07,341.94 134.10,342.82C137.13,343.69 140.68,344.59 145.00,345.17C149.32,345.75 155.50,345.83 160.00,346.30C164.50,346.76 167.83,347.16 172.00,347.96C176.17,348.75 180.67,349.92 185.00,351.07C189.33,352.21 194.67,353.76 198.00,354.83C201.33,355.89 202.67,356.70 205.00,357.47C207.33,358.23 209.50,358.90 212.00,359.42C214.50,359.94 217.00,360.36 220.00,360.60C223.00,360.85 226.67,360.90 230.00,360.90C233.33,360.90 236.67,360.67 240.00,360.63C243.33,360.58 246.67,360.64 250.00,360.63C253.33,360.61 256.67,360.53 260.00,360.53C263.33,360.53 267.33,360.61 270.00,360.63C272.67,360.64 274.33,360.62 276.00,360.63C277.67,360.63 279.17,360.66 280.00,360.67C280.83,360.68 280.50,360.74 281.00,360.69C281.50,360.64 282.33,360.51 283.00,360.36C283.67,360.21 284.42,359.94 285.00,359.78C285.58,359.62 286.07,359.48 286.50,359.40C286.93,359.32 287.23,359.30 287.60,359.30C287.97,359.30 288.30,359.33 288.70,359.40C289.10,359.47 289.42,359.56 290.00,359.72C290.58,359.88 291.50,360.20 292.20,360.36C292.90,360.52 293.57,360.57 294.20,360.69C294.83,360.81 294.73,361.06 296.00,361.08C297.27,361.10 299.62,361.00 301.80,360.82C303.98,360.63 306.67,360.21 309.10,359.96C311.53,359.71 313.98,359.50 316.40,359.29C318.82,359.09 321.18,358.96 323.60,358.72C326.02,358.48 328.47,358.08 330.90,357.86C333.33,357.64 336.27,357.65 338.20,357.38C340.13,357.11 341.05,356.78 342.50,356.24C343.95,355.70 345.43,355.06 346.90,354.14C348.37,353.22 349.97,351.73 351.30,350.71C352.63,349.69 353.87,348.55 354.90,348.04C355.93,347.53 356.35,347.53 357.50,347.66C358.65,347.78 360.17,348.18 361.80,348.80C363.43,349.42 365.48,350.71 367.30,351.38C369.12,352.04 370.88,352.52 372.70,352.81C374.52,353.09 376.38,353.24 378.20,353.09C380.02,352.95 382.22,352.31 383.60,351.95C384.98,351.58 384.92,351.49 386.50,350.90C388.08,350.31 390.92,349.25 393.10,348.42C395.28,347.59 397.85,346.77 399.60,345.94C401.35,345.11 402.50,344.40 403.60,343.46C404.70,342.52 405.33,341.88 406.20,340.31C407.07,338.74 408.03,336.10 408.80,334.02C409.57,331.93 410.15,330.31 410.80,327.82C411.45,325.32 412.05,321.95 412.70,319.04C413.35,316.13 414.03,313.22 414.70,310.36C415.37,307.50 416.07,304.40 416.70,301.87C417.33,299.34 417.87,297.02 418.50,295.19C419.13,293.37 419.83,291.93 420.50,290.90C421.17,289.87 421.92,289.39 422.50,288.99C423.08,288.60 423.50,288.52 424.00,288.52C424.50,288.52 424.92,288.60 425.50,288.99C426.08,289.39 426.82,289.79 427.50,290.90C428.18,292.01 428.95,293.92 429.60,295.67C430.25,297.42 430.80,299.33 431.40,301.39C432.00,303.46 432.60,305.78 433.20,308.07C433.80,310.36 434.47,312.60 435.00,315.13C435.53,317.66 435.98,320.90 436.40,323.24C436.82,325.57 436.88,326.75 437.50,329.15C438.12,331.55 439.13,334.79 440.10,337.64C441.07,340.49 442.13,343.59 443.30,346.22C444.47,348.86 445.83,351.57 447.10,353.47C448.37,355.38 449.42,356.56 450.90,357.67C452.38,358.78 453.88,359.59 456.00,360.15C458.12,360.71 461.27,360.82 463.60,361.01C465.93,361.20 467.27,361.26 470.00,361.30C472.73,361.33 475.00,361.20 480.00,361.20C485.00,361.20 493.33,361.26 500.00,361.30C506.67,361.33 514.33,361.36 520.00,361.39C525.67,361.42 531.67,361.47 534.00,361.49"/>
<path stroke-width="1.25" d="M55.50,344.07C56.47,344.39 58.93,345.79 61.30,346.01C63.67,346.23 67.20,345.89 69.70,345.37C72.20,344.84 74.50,343.81 76.30,342.87C78.10,341.92 79.10,340.72 80.50,339.71C81.90,338.70 83.32,337.82 84.70,336.81C86.08,335.80 87.42,334.74 88.80,333.67C90.18,332.59 91.72,331.32 93.00,330.37C94.28,329.41 95.33,328.71 96.50,327.92C97.67,327.13 98.58,326.30 100.00,325.63C101.42,324.96 103.75,324.23 105.00,323.90C106.25,323.57 106.67,323.62 107.50,323.64C108.33,323.66 109.20,323.79 110.00,324.02C110.80,324.25 111.30,324.17 112.30,325.03C113.30,325.90 114.80,327.69 116.00,329.22C117.20,330.75 118.33,332.84 119.50,334.22C120.67,335.60 121.78,336.55 123.00,337.52C124.22,338.49 124.95,339.15 126.80,340.06C128.65,340.96 131.07,342.06 134.10,342.96C137.13,343.85 140.68,344.81 145.00,345.42C149.32,346.02 155.50,346.11 160.00,346.59C164.50,347.06 167.83,347.47 172.00,348.27C176.17,349.07 180.67,350.26 185.00,351.40C189.33,352.53 194.67,354.05 198.00,355.08C201.33,356.11 202.67,356.87 205.00,357.60C207.33,358.33 209.50,358.96 212.00,359.46C214.50,359.96 217.00,360.37 220.00,360.61C223.00,360.85 226.67,360.90 230.00,360.90C233.33,360.90 236.67,360.67 240.00,360.62C243.33,360.58 246.67,360.64 250.00,360.62C253.33,360.61 256.67,360.53 260.00,360.53C263.33,360.53 267.33,360.61 270.00,360.62C272.67,360.64 274.33,360.61 276.00,360.62C277.67,360.64 279.17,360.68 280.00,360.71C280.83,360.73 280.50,360.78 281.00,360.78C281.50,360.78 282.33,360.74 283.00,360.70C283.67,360.67 284.42,360.60 285.00,360.56C285.58,360.52 286.07,360.49 286.50,360.47C286.93,360.45 287.23,360.44 287.60,360.44C287.97,360.44 288.30,360.45 288.70,360.47C289.10,360.48 289.42,360.51 290.00,360.54C290.58,360.58 291.50,360.66 292.20,360.70C292.90,360.74 293.57,360.72 294.20,360.78C294.83,360.85 294.73,361.09 296.00,361.10C297.27,361.10 299.62,361.01 301.80,360.82C303.98,360.62 306.67,360.21 309.10,359.95C311.53,359.69 313.98,359.49 316.40,359.28C318.82,359.07 321.18,358.94 323.60,358.70C326.02,358.46 328.47,358.06 330.90,357.83C333.33,357.61 336.27,357.63 338.20,357.35C340.13,357.08 341.05,356.74 342.50,356.20C343.95,355.66 345.43,355.01 346.90,354.08C348.37,353.16 349.97,351.65 351.30,350.62C352.63,349.60 353.87,348.44 354.90,347.93C355.93,347.42 356.35,347.42 357.50,347.55C358.65,347.67 360.17,348.07 361.80,348.70C363.43,349.32 365.48,350.62 367.30,351.30C369.12,351.97 370.88,352.45 372.70,352.74C374.52,353.03 376.38,353.17 378.20,353.03C380.02,352.88 382.22,352.24 383.60,351.87C384.98,351.50 384.92,351.41 386.50,350.82C388.08,350.22 390.92,349.15 393.10,348.32C395.28,347.48 397.85,346.65 399.60,345.82C401.35,344.98 402.50,344.26 403.60,343.32C404.70,342.37 405.33,341.73 406.20,340.14C407.07,338.56 408.03,335.90 408.80,333.80C409.57,331.70 410.15,330.06 410.80,327.55C411.45,325.03 412.05,321.63 412.70,318.70C413.35,315.77 414.03,312.83 414.70,309.95C415.37,307.07 416.07,303.94 416.70,301.39C417.33,298.84 417.87,296.50 418.50,294.66C419.13,292.82 419.83,291.38 420.50,290.33C421.17,289.29 421.92,288.81 422.50,288.41C423.08,288.01 423.50,287.93 424.00,287.93C424.50,287.93 424.92,288.01 425.50,288.41C426.08,288.81 426.82,289.21 427.50,290.33C428.18,291.46 428.95,293.38 429.60,295.14C430.25,296.91 430.80,298.83 431.40,300.91C432.00,302.99 432.60,305.33 433.20,307.64C433.80,309.95 434.47,312.21 435.00,314.76C435.53,317.31 435.98,320.57 436.40,322.93C436.82,325.29 436.88,326.47 437.50,328.89C438.12,331.31 439.13,334.58 440.10,337.45C441.07,340.32 442.13,343.44 443.30,346.10C444.47,348.76 445.83,351.49 447.10,353.41C448.37,355.33 449.42,356.52 450.90,357.64C452.38,358.76 453.88,359.58 456.00,360.14C458.12,360.70 461.27,360.82 463.60,361.01C465.93,361.20 467.27,361.26 470.00,361.30C472.73,361.33 475.00,361.20 480.00,361.20C485.00,361.20 493.33,361.26 500.00,361.30C506.67,361.33 514.33,361.36 520.00,361.39C525.67,361.42 531.67,361.47 534.00,361.49"/>
<path stroke-width="1.25" d="M55.50,344.14C56.47,344.47 58.93,345.90 61.30,346.12C63.67,346.34 67.20,345.97 69.70,345.44C72.20,344.91 74.50,343.88 76.30,342.94C78.10,342.01 79.10,340.82 80.50,339.82C81.90,338.82 83.32,337.93 84.70,336.92C86.08,335.91 87.42,334.82 88.80,333.74C90.18,332.66 91.72,331.39 93.00,330.44C94.28,329.50 95.33,328.84 96.50,328.07C97.67,327.29 98.58,326.48 100.00,325.81C101.42,325.15 103.75,324.41 105.00,324.07C106.25,323.74 106.67,323.79 107.50,323.80C108.33,323.82 109.20,323.94 110.00,324.17C110.80,324.39 111.30,324.29 112.30,325.16C113.30,326.02 114.80,327.83 116.00,329.37C117.20,330.90 118.33,332.98 119.50,334.37C120.67,335.75 121.78,336.69 123.00,337.67C124.22,338.64 124.95,339.29 126.80,340.20C128.65,341.10 131.07,342.18 134.10,343.10C137.13,344.01 140.68,345.03 145.00,345.67C149.32,346.30 155.50,346.39 160.00,346.88C164.50,347.37 167.83,347.78 172.00,348.59C176.17,349.40 180.67,350.60 185.00,351.73C189.33,352.85 194.67,354.33 198.00,355.33C201.33,356.33 202.67,357.03 205.00,357.73C207.33,358.42 209.50,359.01 212.00,359.50C214.50,359.98 217.00,360.39 220.00,360.62C223.00,360.85 226.67,360.90 230.00,360.90C233.33,360.90 236.67,360.67 240.00,360.62C243.33,360.57 246.67,360.63 250.00,360.62C253.33,360.60 256.67,360.52 260.00,360.52C263.33,360.52 267.33,360.60 270.00,360.62C272.67,360.63 274.33,360.61 276.00,360.62C277.67,360.62 279.17,360.65 280.00,360.66C280.83,360.67 280.50,360.73 281.00,360.68C281.50,360.63 282.33,360.51 283.00,360.35C283.67,360.20 284.42,359.94 285.00,359.78C285.58,359.62 286.07,359.47 286.50,359.39C286.93,359.31 287.23,359.29 287.60,359.29C287.97,359.29 288.30,359.32 288.70,359.39C289.10,359.46 289.42,359.56 290.00,359.72C290.58,359.88 291.50,360.19 292.20,360.35C292.90,360.52 293.57,360.56 294.20,360.68C294.83,360.80 294.73,361.05 296.00,361.08C297.27,361.10 299.62,361.00 301.80,360.81C303.98,360.62 306.67,360.20 309.10,359.94C311.53,359.68 313.98,359.47 316.40,359.26C318.82,359.05 321.18,358.92 323.60,358.68C326.02,358.44 328.47,358.03 330.90,357.81C333.33,357.58 336.27,357.60 338.20,357.32C340.13,357.05 341.05,356.71 342.50,356.16C343.95,355.61 345.43,354.96 346.90,354.03C348.37,353.09 349.97,351.57 351.30,350.54C352.63,349.50 353.87,348.34 354.90,347.82C355.93,347.31 356.35,347.31 357.50,347.44C358.65,347.57 360.17,347.97 361.80,348.60C363.43,349.23 365.48,350.54 367.30,351.22C369.12,351.90 370.88,352.38 372.70,352.67C374.52,352.96 376.38,353.11 378.20,352.96C380.02,352.82 382.22,352.17 383.60,351.80C384.98,351.43 384.92,351.33 386.50,350.73C388.08,350.13 390.92,349.05 393.10,348.21C395.28,347.37 397.85,346.53 399.60,345.69C401.35,344.85 402.50,344.13 403.60,343.17C404.70,342.22 405.33,341.57 406.20,339.97C407.07,338.37 408.03,335.69 408.80,333.58C409.57,331.46 410.15,329.81 410.80,327.28C411.45,324.74 412.05,321.32 412.70,318.36C413.35,315.40 414.03,312.45 414.70,309.54C415.37,306.63 416.07,303.48 416.70,300.91C417.33,298.35 417.87,295.99 418.50,294.13C419.13,292.27 419.83,290.82 420.50,289.77C421.17,288.72 421.92,288.23 422.50,287.83C423.08,287.43 423.50,287.34 424.00,287.34C424.50,287.34 424.92,287.43 425.50,287.83C426.08,288.23 426.82,288.64 427.50,289.77C428.18,290.90 428.95,292.84 429.60,294.61C430.25,296.39 430.80,298.33 431.40,300.43C432.00,302.53 432.60,304.89 433.20,307.21C433.80,309.54 434.47,311.82 435.00,314.39C435.53,316.95 435.98,320.25 436.40,322.62C436.82,325.00 436.88,326.19 437.50,328.63C438.12,331.07 439.13,334.37 440.10,337.26C441.07,340.15 442.13,343.30 443.30,345.98C444.47,348.66 445.83,351.41 447.10,353.35C448.37,355.29 449.42,356.48 450.90,357.61C452.38,358.74 453.88,359.57 456.00,360.13C458.12,360.70 461.27,360.81 463.60,361.01C465.93,361.20 467.27,361.26 470.00,361.30C472.73,361.33 475.00,361.20 480.00,361.20C485.00,361.20 493.33,361.26 500.00,361.30C506.67,361.33 514.33,361.36 520.00,361.39C525.67,361.43 531.67,361.47 534.00,361.49"/>
<path stroke-width="1.25" d="M55.50,344.22C56.47,344.55 58.93,346.01 61.30,346.23C63.67,346.44 67.20,346.05 69.70,345.52C72.20,344.98 74.50,343.95 76.30,343.02C78.10,342.09 79.10,340.93 80.50,339.93C81.90,338.93 83.32,338.04 84.70,337.03C86.08,336.01 87.42,334.90 88.80,333.82C90.18,332.73 91.72,331.45 93.00,330.52C94.28,329.58 95.33,328.97 96.50,328.21C97.67,327.46 98.58,326.66 100.00,326.00C101.42,325.33 103.75,324.58 105.00,324.24C106.25,323.90 106.67,323.95 107.50,323.97C108.33,323.98 109.20,324.09 110.00,324.31C110.80,324.53 111.30,324.41 112.30,325.28C113.30,326.15 114.80,327.97 116.00,329.51C117.20,331.05 118.33,333.13 119.50,334.51C120.67,335.89 121.78,336.84 123.00,337.81C124.22,338.78 124.95,339.43 126.80,340.33C128.65,341.24 131.07,342.31 134.10,343.23C137.13,344.16 140.68,345.26 145.00,345.91C149.32,346.57 155.50,346.67 160.00,347.17C164.50,347.67 167.83,348.09 172.00,348.90C176.17,349.72 180.67,350.94 185.00,352.06C189.33,353.17 194.67,354.62 198.00,355.59C201.33,356.56 202.67,357.20 205.00,357.86C207.33,358.52 209.50,359.07 212.00,359.53C214.50,360.00 217.00,360.40 220.00,360.63C223.00,360.85 226.67,360.90 230.00,360.90C233.33,360.90 236.67,360.66 240.00,360.61C243.33,360.57 246.67,360.63 250.00,360.61C253.33,360.60 256.67,360.52 260.00,360.52C263.33,360.52 267.33,360.60 270.00,360.61C272.67,360.63 274.33,360.60 276.00,360.61C277.67,360.63 279.17,360.67 280.00,360.70C280.83,360.72 280.50,360.78 281.00,360.78C281.50,360.78 282.33,360.73 283.00,360.70C283.67,360.66 284.42,360.59 285.00,360.55C285.58,360.51 286.07,360.48 286.50,360.46C286.93,360.44 287.23,360.43 287.60,360.43C287.97,360.43 288.30,360.44 288.70,360.46C289.10,360.48 289.42,360.50 290.00,360.54C290.58,360.58 291.50,360.66 292.20,360.70C292.90,360.74 293.57,360.71 294.20,360.78C294.83,360.84 294.73,361.09 296.00,361.10C297.27,361.10 299.62,361.00 301.80,360.81C303.98,360.61 306.67,360.19 309.10,359.93C311.53,359.67 313.98,359.46 316.40,359.25C318.82,359.03 321.18,358.90 323.60,358.66C326.02,358.42 328.47,358.01 330.90,357.78C333.33,357.55 336.27,357.57 338.20,357.29C340.13,357.02 341.05,356.67 342.50,356.12C343.95,355.57 345.43,354.92 346.90,353.97C348.37,353.03 349.97,351.50 351.30,350.45C352.63,349.41 353.87,348.24 354.90,347.72C355.93,347.20 356.35,347.20 357.50,347.33C358.65,347.46 360.17,347.87 361.80,348.50C363.43,349.13 365.48,350.45 367.30,351.14C369.12,351.82 370.88,352.31 372.70,352.60C374.52,352.90 376.38,353.04 378.20,352.90C380.02,352.75 382.22,352.10 383.60,351.72C384.98,351.35 384.92,351.25 386.50,350.65C388.08,350.05 390.92,348.96 393.10,348.11C395.28,347.26 397.85,346.42 399.60,345.57C401.35,344.72 402.50,343.99 403.60,343.03C404.70,342.07 405.33,341.42 406.20,339.81C407.07,338.19 408.03,335.49 408.80,333.36C409.57,331.22 410.15,329.56 410.80,327.01C411.45,324.45 412.05,321.00 412.70,318.02C413.35,315.04 414.03,312.06 414.70,309.13C415.37,306.20 416.07,303.02 416.70,300.44C417.33,297.85 417.87,295.47 418.50,293.60C419.13,291.72 419.83,290.26 420.50,289.20C421.17,288.14 421.92,287.65 422.50,287.25C423.08,286.84 423.50,286.76 424.00,286.76C424.50,286.76 424.92,286.84 425.50,287.25C426.08,287.65 426.82,288.06 427.50,289.20C428.18,290.34 428.95,292.29 429.60,294.09C430.25,295.88 430.80,297.83 431.40,299.95C432.00,302.06 432.60,304.44 433.20,306.79C433.80,309.13 434.47,311.43 435.00,314.01C435.53,316.60 435.98,319.92 436.40,322.32C436.82,324.71 436.88,325.92 437.50,328.38C438.12,330.83 439.13,334.16 440.10,337.07C441.07,339.98 442.13,343.16 443.30,345.86C444.47,348.57 445.83,351.33 447.10,353.29C448.37,355.24 449.42,356.45 450.90,357.59C452.38,358.73 453.88,359.56 456.00,360.13C458.12,360.70 461.27,360.81 463.60,361.00C465.93,361.20 467.27,361.27 470.00,361.30C472.73,361.33 475.00,361.20 480.00,361.20C485.00,361.20 493.33,361.27 500.00,361.30C506.67,361.33 514.33,361.36 520.00,361.40C525.67,361.43 531.67,361.48 534.00,361.49"/>
<path stroke-width="1.25" d="M55.50,344.30C56.47,344.64 58.93,346.12 61.30,346.33C63.67,346.55 67.20,346.14 69.70,345.60C72.20,345.06 74.50,344.02 76.30,343.10C78.10,342.17 79.10,341.03 80.50,340.03C81.90,339.04 83.32,338.16 84.70,337.13C86.08,336.11 87.42,334.99 88.80,333.90C90.18,332.81 91.72,331.52 93.00,330.60C94.28,329.67 95.33,329.09 96.50,328.36C97.67,327.62 98.58,326.84 100.00,326.18C101.42,325.52 103.75,324.75 105.00,324.41C106.25,324.07 106.67,324.12 107.50,324.13C108.33,324.13 109.20,324.24 110.00,324.46C110.80,324.67 111.30,324.54 112.30,325.40C113.30,326.27 114.80,328.12 116.00,329.66C117.20,331.20 118.33,333.27 119.50,334.66C120.67,336.04 121.78,336.99 123.00,337.96C124.22,338.93 124.95,339.57 126.80,340.47C128.65,341.38 131.07,342.43 134.10,343.37C137.13,344.32 140.68,345.48 145.00,346.16C149.32,346.84 155.50,346.96 160.00,347.47C164.50,347.98 167.83,348.40 172.00,349.22C176.17,350.04 180.67,351.28 185.00,352.39C189.33,353.49 194.67,354.91 198.00,355.84C201.33,356.78 202.67,357.37 205.00,357.99C207.33,358.61 209.50,359.13 212.00,359.57C214.50,360.01 217.00,360.41 220.00,360.63C223.00,360.86 226.67,360.90 230.00,360.90C233.33,360.90 236.67,360.66 240.00,360.61C243.33,360.56 246.67,360.63 250.00,360.61C253.33,360.59 256.67,360.51 260.00,360.51C263.33,360.51 267.33,360.59 270.00,360.61C272.67,360.63 274.33,360.60 276.00,360.61C277.67,360.62 279.17,360.64 280.00,360.65C280.83,360.66 280.50,360.73 281.00,360.68C281.50,360.63 282.33,360.50 283.00,360.35C283.67,360.20 284.42,359.93 285.00,359.77C285.58,359.61 286.07,359.47 286.50,359.39C286.93,359.31 287.23,359.29 287.60,359.29C287.97,359.29 288.30,359.32 288.70,359.39C289.10,359.46 289.42,359.55 290.00,359.71C290.58,359.87 291.50,360.19 292.20,360.35C292.90,360.51 293.57,360.56 294.20,360.68C294.83,360.80 294.73,361.05 296.00,361.07C297.27,361.10 299.62,361.00 301.80,360.81C303.98,360.61 306.67,360.18 309.10,359.92C311.53,359.66 313.98,359.44 316.40,359.23C318.82,359.02 321.18,358.89 323.60,358.64C326.02,358.39 328.47,357.98 330.90,357.75C333.33,357.52 336.27,357.54 338.20,357.26C340.13,356.98 341.05,356.64 342.50,356.08C343.95,355.52 345.43,354.87 346.90,353.91C348.37,352.96 349.97,351.42 351.30,350.37C352.63,349.32 353.87,348.14 354.90,347.61C355.93,347.09 356.35,347.09 357.50,347.22C358.65,347.35 360.17,347.76 361.80,348.40C363.43,349.04 365.48,350.37 367.30,351.06C369.12,351.75 370.88,352.24 372.70,352.54C374.52,352.83 376.38,352.98 378.20,352.83C380.02,352.68 382.22,352.03 383.60,351.65C384.98,351.27 384.92,351.17 386.50,350.57C388.08,349.96 390.92,348.86 393.10,348.01C395.28,347.15 397.85,346.30 399.60,345.45C401.35,344.59 402.50,343.85 403.60,342.89C404.70,341.92 405.33,341.26 406.20,339.64C407.07,338.01 408.03,335.29 408.80,333.14C409.57,330.99 410.15,329.31 410.80,326.74C411.45,324.16 412.05,320.68 412.70,317.68C413.35,314.68 414.03,311.67 414.70,308.72C415.37,305.77 416.07,302.57 416.70,299.96C417.33,297.35 417.87,294.95 418.50,293.06C419.13,291.18 419.83,289.70 420.50,288.63C421.17,287.57 421.92,287.07 422.50,286.66C423.08,286.25 423.50,286.17 424.00,286.17C424.50,286.17 424.92,286.25 425.50,286.66C426.08,287.07 426.82,287.49 427.50,288.63C428.18,289.78 428.95,291.75 429.60,293.56C430.25,295.36 430.80,297.33 431.40,299.46C432.00,301.60 432.60,303.99 433.20,306.36C433.80,308.72 434.47,311.03 435.00,313.64C435.53,316.25 435.98,319.60 436.40,322.01C436.82,324.42 436.88,325.64 437.50,328.12C438.12,330.59 439.13,333.94 440.10,336.88C441.07,339.82 442.13,343.02 443.30,345.74C444.47,348.47 445.83,351.26 447.10,353.22C448.37,355.19 449.42,356.41 450.90,357.56C452.38,358.71 453.88,359.54 456.00,360.12C458.12,360.69 461.27,360.81 463.60,361.00C465.93,361.20 467.27,361.27 470.00,361.30C472.73,361.33 475.00,361.20 480.00,361.20C485.00,361.20 493.33,361.27 500.00,361.30C506.67,361.33 514.33,361.36 520.00,361.40C525.67,361.43 531.67,361.48 534.00,361.50"/>
<path stroke-width="1.25" d="M55.50,344.37C56.47,344.72 58.93,346.23 61.30,346.44C63.67,346.66 67.20,346.22 69.70,345.67C72.20,345.13 74.50,344.09 76.30,343.17C78.10,342.25 79.10,341.13 80.50,340.14C81.90,339.15 83.32,338.27 84.70,337.24C86.08,336.21 87.42,335.07 88.80,333.97C90.18,332.88 91.72,331.58 93.00,330.67C94.28,329.76 95.33,329.22 96.50,328.50C97.67,327.79 98.58,327.02 100.00,326.37C101.42,325.71 103.75,324.93 105.00,324.58C106.25,324.23 106.67,324.28 107.50,324.29C108.33,324.29 109.20,324.40 110.00,324.60C110.80,324.81 111.30,324.66 112.30,325.53C113.30,326.39 114.80,328.26 116.00,329.80C117.20,331.35 118.33,333.42 119.50,334.80C120.67,336.19 121.78,337.14 123.00,338.10C124.22,339.07 124.95,339.71 126.80,340.61C128.65,341.51 131.07,342.55 134.10,343.51C137.13,344.48 140.68,345.70 145.00,346.40C149.32,347.11 155.50,347.24 160.00,347.76C164.50,348.28 167.83,348.71 172.00,349.53C176.17,350.36 180.67,351.63 185.00,352.72C189.33,353.81 194.67,355.20 198.00,356.10C201.33,357.00 202.67,357.53 205.00,358.12C207.33,358.71 209.50,359.19 212.00,359.61C214.50,360.03 217.00,360.43 220.00,360.64C223.00,360.86 226.67,360.91 230.00,360.90C233.33,360.89 236.67,360.65 240.00,360.60C243.33,360.56 246.67,360.62 250.00,360.60C253.33,360.59 256.67,360.51 260.00,360.51C263.33,360.51 267.33,360.59 270.00,360.60C272.67,360.62 274.33,360.59 276.00,360.60C277.67,360.62 279.17,360.66 280.00,360.69C280.83,360.72 280.50,360.77 281.00,360.77C281.50,360.77 282.33,360.73 283.00,360.69C283.67,360.65 284.42,360.59 285.00,360.55C285.58,360.51 286.07,360.47 286.50,360.45C286.93,360.43 287.23,360.43 287.60,360.43C287.97,360.43 288.30,360.44 288.70,360.45C289.10,360.47 289.42,360.49 290.00,360.53C290.58,360.57 291.50,360.65 292.20,360.69C292.90,360.73 293.57,360.70 294.20,360.77C294.83,360.84 294.73,361.09 296.00,361.09C297.27,361.10 299.62,361.00 301.80,360.80C303.98,360.61 306.67,360.17 309.10,359.91C311.53,359.65 313.98,359.43 316.40,359.22C318.82,359.00 321.18,358.87 323.60,358.62C326.02,358.37 328.47,357.96 330.90,357.73C333.33,357.50 336.27,357.51 338.20,357.23C340.13,356.95 341.05,356.60 342.50,356.04C343.95,355.48 345.43,354.82 346.90,353.86C348.37,352.90 349.97,351.34 351.30,350.28C352.63,349.23 353.87,348.04 354.90,347.51C355.93,346.98 356.35,346.98 357.50,347.11C358.65,347.24 360.17,347.66 361.80,348.30C363.43,348.94 365.48,350.28 367.30,350.98C369.12,351.67 370.88,352.17 372.70,352.47C374.52,352.77 376.38,352.91 378.20,352.77C380.02,352.62 382.22,351.96 383.60,351.57C384.98,351.19 384.92,351.09 386.50,350.48C388.08,349.87 390.92,348.76 393.10,347.90C395.28,347.04 397.85,346.18 399.60,345.32C401.35,344.46 402.50,343.72 403.60,342.74C404.70,341.77 405.33,341.11 406.20,339.47C407.07,337.83 408.03,335.09 408.80,332.92C409.57,330.75 410.15,329.07 410.80,326.47C411.45,323.87 412.05,320.37 412.70,317.34C413.35,314.31 414.03,311.29 414.70,308.31C415.37,305.33 416.07,302.11 416.70,299.48C417.33,296.85 417.87,294.43 418.50,292.53C419.13,290.63 419.83,289.14 420.50,288.07C421.17,286.99 421.92,286.50 422.50,286.08C423.08,285.67 423.50,285.59 424.00,285.59C424.50,285.59 424.92,285.67 425.50,286.08C426.08,286.50 426.82,286.91 427.50,288.07C428.18,289.22 428.95,291.21 429.60,293.03C430.25,294.85 430.80,296.83 431.40,298.98C432.00,301.13 432.60,303.55 433.20,305.93C433.80,308.31 434.47,310.64 435.00,313.27C435.53,315.90 435.98,319.27 436.40,321.71C436.82,324.14 436.88,325.36 437.50,327.86C438.12,330.36 439.13,333.73 440.10,336.69C441.07,339.65 442.13,342.88 443.30,345.62C444.47,348.37 445.83,351.18 447.10,353.16C448.37,355.15 449.42,356.37 450.90,357.53C452.38,358.69 453.88,359.53 456.00,360.11C458.12,360.69 461.27,360.80 463.60,361.00C465.93,361.20 467.27,361.27 470.00,361.30C472.73,361.33 475.00,361.20 480.00,361.20C485.00,361.20 493.33,361.27 500.00,361.30C506.67,361.33 514.33,361.37 520.00,361.40C525.67,361.43 531.67,361.48 534.00,361.50"/>
<path stroke-width="1.25" d="M55.50,344.45C56.47,344.80 58.93,346.33 61.30,346.55C63.67,346.77 67.20,346.30 69.70,345.75C72.20,345.20 74.50,344.17 76.30,343.25C78.10,342.33 79.10,341.23 80.50,340.25C81.90,339.27 83.32,338.38 84.70,337.35C86.08,336.32 87.42,335.15 88.80,334.05C90.18,332.95 91.72,331.65 93.00,330.75C94.28,329.85 95.33,329.35 96.50,328.65C97.67,327.95 98.58,327.20 100.00,326.55C101.42,325.90 103.75,325.10 105.00,324.75C106.25,324.40 106.67,324.45 107.50,324.45C108.33,324.45 109.20,324.55 110.00,324.75C110.80,324.95 111.30,324.78 112.30,325.65C113.30,326.52 114.80,328.40 116.00,329.95C117.20,331.50 118.33,333.57 119.50,334.95C120.67,336.33 121.78,337.28 123.00,338.25C124.22,339.22 124.95,339.85 126.80,340.75C128.65,341.65 131.07,342.67 134.10,343.65C137.13,344.63 140.68,345.92 145.00,346.65C149.32,347.38 155.50,347.52 160.00,348.05C164.50,348.58 167.83,349.02 172.00,349.85C176.17,350.68 180.67,351.97 185.00,353.05C189.33,354.13 194.67,355.48 198.00,356.35C201.33,357.22 202.67,357.70 205.00,358.25C207.33,358.80 209.50,359.25 212.00,359.65C214.50,360.05 217.00,360.44 220.00,360.65C223.00,360.86 226.67,360.91 230.00,360.90C233.33,360.89 236.67,360.65 240.00,360.60C243.33,360.55 246.67,360.62 250.00,360.60C253.33,360.58 256.67,360.50 260.00,360.50C263.33,360.50 267.33,360.58 270.00,360.60C272.67,360.62 274.33,360.59 276.00,360.60C277.67,360.61 279.17,360.63 280.00,360.64C280.83,360.65 280.50,360.72 281.00,360.67C281.50,360.62 282.33,360.49 283.00,360.34C283.67,360.19 284.42,359.92 285.00,359.76C285.58,359.60 286.07,359.46 286.50,359.38C286.93,359.30 287.23,359.28 287.60,359.28C287.97,359.28 288.30,359.31 288.70,359.38C289.10,359.45 289.42,359.54 290.00,359.70C290.58,359.86 291.50,360.18 292.20,360.34C292.90,360.50 293.57,360.55 294.20,360.67C294.83,360.79 294.73,361.05 296.00,361.07C297.27,361.09 299.62,361.00 301.80,360.80C303.98,360.60 306.67,360.17 309.10,359.90C311.53,359.63 313.98,359.42 316.40,359.20C318.82,358.98 321.18,358.85 323.60,358.60C326.02,358.35 328.47,357.93 330.90,357.70C333.33,357.47 336.27,357.48 338.20,357.20C340.13,356.92 341.05,356.57 342.50,356.00C343.95,355.43 345.43,354.77 346.90,353.80C348.37,352.83 349.97,351.27 351.30,350.20C352.63,349.13 353.87,347.93 354.90,347.40C355.93,346.87 356.35,346.87 357.50,347.00C358.65,347.13 360.17,347.55 361.80,348.20C363.43,348.85 365.48,350.20 367.30,350.90C369.12,351.60 370.88,352.10 372.70,352.40C374.52,352.70 376.38,352.85 378.20,352.70C380.02,352.55 382.22,351.88 383.60,351.50C384.98,351.12 384.92,351.02 386.50,350.40C388.08,349.78 390.92,348.67 393.10,347.80C395.28,346.93 397.85,346.07 399.60,345.20C401.35,344.33 402.50,343.58 403.60,342.60C404.70,341.62 405.33,340.95 406.20,339.30C407.07,337.65 408.03,334.88 408.80,332.70C409.57,330.52 410.15,328.82 410.80,326.20C411.45,323.58 412.05,320.05 412.70,317.00C413.35,313.95 414.03,310.90 414.70,307.90C415.37,304.90 416.07,301.65 416.70,299.00C417.33,296.35 417.87,293.92 418.50,292.00C419.13,290.08 419.83,288.58 420.50,287.50C421.17,286.42 421.92,285.92 422.50,285.50C423.08,285.08 423.50,285.00 424.00,285.00C424.50,285.00 424.92,285.08 425.50,285.50C426.08,285.92 426.82,286.33 427.50,287.50C428.18,288.67 428.95,290.67 429.60,292.50C430.25,294.33 430.80,296.33 431.40,298.50C432.00,300.67 432.60,303.10 433.20,305.50C433.80,307.90 434.47,310.25 435.00,312.90C435.53,315.55 435.98,318.95 436.40,321.40C436.82,323.85 436.88,325.08 437.50,327.60C438.12,330.12 439.13,333.52 440.10,336.50C441.07,339.48 442.13,342.73 443.30,345.50C444.47,348.27 445.83,351.10 447.10,353.10C448.37,355.10 449.42,356.33 450.90,357.50C452.38,358.67 453.88,359.52 456.00,360.10C458.12,360.68 461.27,360.80 463.60,361.00C465.93,361.20 467.27,361.27 470.00,361.30C472.73,361.33 475.00,361.20 480.00,361.20C485.00,361.20 493.33,361.27 500.00,361.30C506.67,361.33 514.33,361.37 520.00,361.40C525.67,361.43 531.67,361.48 534.00,361.50"/>
<path stroke-width="1.25" d="M55.50,341.20C56.47,341.42 59.50,342.35 61.30,342.50C63.10,342.65 64.48,342.45 66.30,342.10C68.12,341.75 70.53,341.03 72.20,340.40C73.87,339.77 74.92,339.27 76.30,338.30C77.68,337.33 79.10,335.50 80.50,334.60C81.90,333.70 83.32,333.67 84.70,332.90C86.08,332.13 87.42,330.90 88.80,330.00C90.18,329.10 91.48,328.33 93.00,327.50C94.52,326.67 96.73,325.67 97.90,325.00C99.07,324.33 98.70,324.17 100.00,323.50C101.30,322.83 104.03,321.35 105.70,321.00C107.37,320.65 108.57,320.85 110.00,321.40C111.43,321.95 112.87,322.98 114.30,324.30C115.73,325.62 117.17,327.87 118.60,329.30C120.03,330.73 121.23,331.95 122.90,332.90C124.57,333.85 126.47,334.53 128.60,335.00C130.73,335.47 133.32,335.48 135.70,335.70C138.08,335.92 140.52,336.22 142.90,336.30C145.28,336.38 147.98,336.30 150.00,336.20C152.02,336.10 153.22,335.90 155.00,335.70C156.78,335.50 158.80,335.17 160.70,335.00C162.60,334.83 164.50,334.58 166.40,334.70C168.30,334.82 170.18,335.17 172.10,335.70C174.02,336.23 175.98,337.18 177.90,337.90C179.82,338.62 181.70,339.17 183.60,340.00C185.50,340.83 187.40,341.72 189.30,342.90C191.20,344.08 193.10,345.43 195.00,347.10C196.90,348.77 198.80,351.23 200.70,352.90C202.60,354.57 204.52,356.03 206.40,357.10C208.28,358.17 209.73,358.73 212.00,359.30C214.27,359.87 217.00,360.22 220.00,360.50C223.00,360.78 226.67,360.98 230.00,361.00C233.33,361.02 236.67,360.68 240.00,360.62C243.33,360.55 246.67,360.63 250.00,360.62C253.33,360.60 256.67,360.52 260.00,360.52C263.33,360.52 267.33,360.60 270.00,360.62C272.67,360.63 274.33,360.61 276.00,360.62C277.67,360.62 279.17,360.63 280.00,360.63C280.83,360.63 280.50,360.70 281.00,360.62C281.50,360.54 282.33,360.36 283.00,360.13C283.67,359.91 284.42,359.52 285.00,359.28C285.58,359.04 286.07,358.83 286.50,358.71C286.93,358.59 287.23,358.56 287.60,358.56C287.97,358.56 288.30,358.61 288.70,358.71C289.10,358.82 289.42,358.95 290.00,359.19C290.58,359.43 291.50,359.90 292.20,360.13C292.90,360.37 293.57,360.47 294.20,360.62C294.83,360.78 294.73,361.03 296.00,361.06C297.27,361.09 299.62,361.00 301.80,360.81C303.98,360.62 306.67,360.20 309.10,359.94C311.53,359.68 313.98,359.47 316.40,359.26C318.82,359.05 321.18,358.92 323.60,358.68C326.02,358.44 328.47,358.03 330.90,357.81C333.33,357.58 336.27,357.59 338.20,357.32C340.13,357.05 341.05,356.71 342.50,356.16C343.95,355.61 345.43,354.96 346.90,354.02C348.37,353.08 349.97,351.56 351.30,350.53C352.63,349.50 353.87,348.33 354.90,347.81C355.93,347.30 356.35,347.30 357.50,347.43C358.65,347.56 360.17,347.96 361.80,348.59C363.43,349.22 365.48,350.53 367.30,351.21C369.12,351.89 370.88,352.37 372.70,352.66C374.52,352.95 376.38,353.10 378.20,352.95C380.02,352.81 382.22,352.16 383.60,351.79C384.98,351.42 384.92,351.32 386.50,350.72C388.08,350.13 390.92,349.04 393.10,348.20C395.28,347.36 397.85,346.52 399.60,345.68C401.35,344.84 402.50,344.11 403.60,343.16C404.70,342.20 405.33,341.56 406.20,339.96C407.07,338.36 408.03,335.67 408.80,333.56C409.57,331.44 410.15,329.79 410.80,327.25C411.45,324.71 412.05,321.28 412.70,318.33C413.35,315.37 414.03,312.41 414.70,309.50C415.37,306.59 416.07,303.44 416.70,300.87C417.33,298.30 417.87,295.94 418.50,294.08C419.13,292.22 419.83,290.76 420.50,289.71C421.17,288.66 421.92,288.18 422.50,287.77C423.08,287.37 423.50,287.29 424.00,287.29C424.50,287.29 424.92,287.37 425.50,287.77C426.08,288.18 426.82,288.58 427.50,289.71C428.18,290.84 428.95,292.78 429.60,294.56C430.25,296.34 430.80,298.28 431.40,300.38C432.00,302.48 432.60,304.84 433.20,307.17C433.80,309.50 434.47,311.78 435.00,314.35C435.53,316.92 435.98,320.22 436.40,322.59C436.82,324.97 436.88,326.17 437.50,328.61C438.12,331.05 439.13,334.35 440.10,337.24C441.07,340.13 442.13,343.29 443.30,345.97C444.47,348.65 445.83,351.40 447.10,353.34C448.37,355.28 449.42,356.48 450.90,357.61C452.38,358.74 453.88,359.57 456.00,360.13C458.12,360.70 461.27,360.81 463.60,361.01C465.93,361.20 467.27,361.26 470.00,361.30C472.73,361.33 475.00,361.20 480.00,361.20C485.00,361.20 493.33,361.26 500.00,361.30C506.67,361.33 514.33,361.36 520.00,361.39C525.67,361.43 531.67,361.47 534.00,361.49"/>
<path stroke-width="1.25" d="M55.50,335.30C56.47,335.53 59.50,336.68 61.30,336.70C63.10,336.72 64.48,335.82 66.30,335.40C68.12,334.98 70.53,334.75 72.20,334.20C73.87,333.65 74.92,333.01 76.30,332.10C77.68,331.19 79.10,329.73 80.50,328.75C81.90,327.77 83.32,326.94 84.70,326.25C86.08,325.56 87.42,325.16 88.80,324.60C90.18,324.04 91.25,323.67 93.00,322.90C94.75,322.13 97.42,320.83 99.30,320.00C101.18,319.17 102.52,318.50 104.30,317.90C106.08,317.30 108.33,316.28 110.00,316.40C111.67,316.52 112.87,317.65 114.30,318.60C115.73,319.55 117.17,321.03 118.60,322.10C120.03,323.17 121.23,324.28 122.90,325.00C124.57,325.72 126.70,326.22 128.60,326.40C130.50,326.58 132.40,326.45 134.30,326.10C136.20,325.75 138.10,324.97 140.00,324.30C141.90,323.63 143.80,322.93 145.70,322.10C147.60,321.27 149.85,320.13 151.40,319.30C152.95,318.47 153.45,317.93 155.00,317.10C156.55,316.27 158.80,315.05 160.70,314.30C162.60,313.55 164.50,312.72 166.40,312.60C168.30,312.48 170.18,312.85 172.10,313.60C174.02,314.35 175.98,315.55 177.90,317.10C179.82,318.65 181.70,320.98 183.60,322.90C185.50,324.82 187.40,326.47 189.30,328.60C191.20,330.73 193.33,333.32 195.00,335.70C196.67,338.08 197.87,340.52 199.30,342.90C200.73,345.28 202.17,347.87 203.60,350.00C205.03,352.13 206.48,354.27 207.90,355.70C209.32,357.13 210.42,357.85 212.10,358.60C213.78,359.35 215.35,359.82 218.00,360.20C220.65,360.58 224.33,360.83 228.00,360.90C231.67,360.97 236.33,360.65 240.00,360.61C243.67,360.56 246.67,360.62 250.00,360.61C253.33,360.59 256.67,360.51 260.00,360.51C263.33,360.51 267.33,360.59 270.00,360.61C272.67,360.62 274.33,360.60 276.00,360.60C277.67,360.61 279.17,360.62 280.00,360.62C280.83,360.62 280.50,360.70 281.00,360.61C281.50,360.53 282.33,360.35 283.00,360.13C283.67,359.90 284.42,359.51 285.00,359.27C285.58,359.03 286.07,358.82 286.50,358.70C286.93,358.58 287.23,358.55 287.60,358.55C287.97,358.55 288.30,358.60 288.70,358.70C289.10,358.81 289.42,358.94 290.00,359.18C290.58,359.42 291.50,359.89 292.20,360.13C292.90,360.36 293.57,360.46 294.20,360.61C294.83,360.77 294.73,361.03 296.00,361.06C297.27,361.09 299.62,361.00 301.80,360.80C303.98,360.61 306.67,360.18 309.10,359.91C311.53,359.65 313.98,359.43 316.40,359.22C318.82,359.01 321.18,358.87 323.60,358.63C326.02,358.38 328.47,357.97 330.90,357.74C333.33,357.50 336.27,357.52 338.20,357.24C340.13,356.96 341.05,356.61 342.50,356.05C343.95,355.49 345.43,354.83 346.90,353.87C348.37,352.92 349.97,351.37 351.30,350.31C352.63,349.25 353.87,348.07 354.90,347.54C355.93,347.01 356.35,347.01 357.50,347.14C358.65,347.27 360.17,347.69 361.80,348.33C363.43,348.97 365.48,350.31 367.30,351.00C369.12,351.70 370.88,352.19 372.70,352.49C374.52,352.78 376.38,352.93 378.20,352.78C380.02,352.64 382.22,351.98 383.60,351.60C384.98,351.22 384.92,351.12 386.50,350.51C388.08,349.90 390.92,348.79 393.10,347.93C395.28,347.08 397.85,346.22 399.60,345.36C401.35,344.50 402.50,343.76 403.60,342.79C404.70,341.81 405.33,341.15 406.20,339.52C407.07,337.89 408.03,335.15 408.80,332.99C409.57,330.82 410.15,329.14 410.80,326.55C411.45,323.96 412.05,320.46 412.70,317.44C413.35,314.42 414.03,311.40 414.70,308.43C415.37,305.46 416.07,302.25 416.70,299.62C417.33,297.00 417.87,294.59 418.50,292.69C419.13,290.79 419.83,289.31 420.50,288.24C421.17,287.16 421.92,286.67 422.50,286.26C423.08,285.84 423.50,285.76 424.00,285.76C424.50,285.76 424.92,285.84 425.50,286.26C426.08,286.67 426.82,287.08 427.50,288.24C428.18,289.39 428.95,291.37 429.60,293.19C430.25,295.00 430.80,296.98 431.40,299.13C432.00,301.27 432.60,303.68 433.20,306.06C433.80,308.43 434.47,310.76 435.00,313.38C435.53,316.01 435.98,319.37 436.40,321.80C436.82,324.22 436.88,325.44 437.50,327.94C438.12,330.43 439.13,333.79 440.10,336.75C441.07,339.70 442.13,342.92 443.30,345.66C444.47,348.40 445.83,351.20 447.10,353.18C448.37,355.16 449.42,356.38 450.90,357.54C452.38,358.69 453.88,359.53 456.00,360.11C458.12,360.69 461.27,360.80 463.60,361.00C465.93,361.20 467.27,361.27 470.00,361.30C472.73,361.33 475.00,361.20 480.00,361.20C485.00,361.20 493.33,361.27 500.00,361.30C506.67,361.33 514.33,361.36 520.00,361.40C525.67,361.43 531.67,361.48 534.00,361.50"/>
<path stroke-width="1.25" d="M55.50,323.30C56.33,323.38 59.12,324.02 60.50,323.75C61.88,323.48 62.27,322.32 63.80,321.70C65.33,321.07 67.60,320.52 69.70,320.00C71.80,319.48 74.45,319.67 76.40,318.60C78.35,317.53 79.85,314.55 81.40,313.60C82.95,312.65 84.15,312.67 85.70,312.90C87.25,313.13 88.67,315.00 90.70,315.00C92.73,315.00 96.07,313.53 97.90,312.90C99.73,312.27 100.17,311.85 101.70,311.20C103.23,310.55 105.37,309.32 107.10,309.00C108.83,308.68 110.18,309.05 112.10,309.30C114.02,309.55 116.80,310.05 118.60,310.50C120.40,310.95 121.48,312.03 122.90,312.00C124.32,311.97 125.92,311.00 127.10,310.30C128.28,309.60 129.03,308.60 130.00,307.80C130.97,307.00 131.95,306.50 132.90,305.50C133.85,304.50 134.75,302.88 135.70,301.80C136.65,300.72 137.65,300.05 138.60,299.00C139.55,297.95 140.33,296.78 141.40,295.50C142.47,294.22 144.05,292.62 145.00,291.30C145.95,289.98 145.78,289.25 147.10,287.60C148.42,285.95 150.98,283.15 152.90,281.40C154.82,279.65 156.93,278.52 158.60,277.10C160.27,275.68 161.48,273.97 162.90,272.90C164.32,271.83 165.68,270.95 167.10,270.70C168.52,270.45 169.97,270.45 171.40,271.40C172.83,272.35 174.27,274.47 175.70,276.40C177.13,278.33 178.48,280.97 180.00,283.00C181.52,285.03 183.22,286.72 184.80,288.60C186.38,290.48 188.23,292.23 189.50,294.30C190.77,296.37 191.60,299.42 192.40,301.00C193.20,302.58 193.67,302.22 194.30,303.80C194.93,305.38 195.55,307.97 196.20,310.50C196.85,313.03 197.65,316.58 198.20,319.00C198.75,321.42 199.00,323.17 199.50,325.00C200.00,326.83 200.62,328.00 201.20,330.00C201.78,332.00 202.40,335.00 203.00,337.00C203.60,339.00 204.25,340.33 204.80,342.00C205.35,343.67 205.72,345.42 206.30,347.00C206.88,348.58 207.52,350.17 208.30,351.50C209.08,352.83 209.88,353.92 211.00,355.00C212.12,356.08 213.50,357.22 215.00,358.00C216.50,358.78 218.17,359.28 220.00,359.70C221.83,360.12 222.67,360.35 226.00,360.50C229.33,360.65 236.00,360.58 240.00,360.60C244.00,360.62 246.67,360.62 250.00,360.60C253.33,360.58 256.67,360.50 260.00,360.50C263.33,360.50 267.33,360.58 270.00,360.60C272.67,360.62 274.33,360.60 276.00,360.60C277.67,360.60 279.17,360.61 280.00,360.61C280.83,360.62 280.50,360.69 281.00,360.61C281.50,360.53 282.33,360.35 283.00,360.12C283.67,359.90 284.42,359.50 285.00,359.27C285.58,359.03 286.07,358.82 286.50,358.70C286.93,358.58 287.23,358.55 287.60,358.55C287.97,358.55 288.30,358.59 288.70,358.70C289.10,358.80 289.42,358.94 290.00,359.18C290.58,359.41 291.50,359.88 292.20,360.12C292.90,360.36 293.57,360.45 294.20,360.61C294.83,360.77 294.73,361.03 296.00,361.06C297.27,361.09 299.62,360.99 301.80,360.80C303.98,360.61 306.67,360.17 309.10,359.90C311.53,359.63 313.98,359.42 316.40,359.20C318.82,358.98 321.18,358.85 323.60,358.60C326.02,358.35 328.47,357.93 330.90,357.70C333.33,357.47 336.27,357.48 338.20,357.20C340.13,356.92 341.05,356.57 342.50,356.00C343.95,355.43 345.43,354.77 346.90,353.80C348.37,352.83 349.97,351.27 351.30,350.20C352.63,349.13 353.87,347.93 354.90,347.40C355.93,346.87 356.35,346.87 357.50,347.00C358.65,347.13 360.17,347.55 361.80,348.20C363.43,348.85 365.48,350.20 367.30,350.90C369.12,351.60 370.88,352.10 372.70,352.40C374.52,352.70 376.38,352.85 378.20,352.70C380.02,352.55 382.22,351.88 383.60,351.50C384.98,351.12 384.92,351.02 386.50,350.40C388.08,349.78 390.92,348.67 393.10,347.80C395.28,346.93 397.85,346.07 399.60,345.20C401.35,344.33 402.50,343.58 403.60,342.60C404.70,341.62 405.33,340.95 406.20,339.30C407.07,337.65 408.03,334.88 408.80,332.70C409.57,330.52 410.15,328.82 410.80,326.20C411.45,323.58 412.05,320.05 412.70,317.00C413.35,313.95 414.03,310.90 414.70,307.90C415.37,304.90 416.07,301.65 416.70,299.00C417.33,296.35 417.87,293.92 418.50,292.00C419.13,290.08 419.83,288.58 420.50,287.50C421.17,286.42 421.92,285.92 422.50,285.50C423.08,285.08 423.50,285.00 424.00,285.00C424.50,285.00 424.92,285.08 425.50,285.50C426.08,285.92 426.82,286.33 427.50,287.50C428.18,288.67 428.95,290.67 429.60,292.50C430.25,294.33 430.80,296.33 431.40,298.50C432.00,300.67 432.60,303.10 433.20,305.50C433.80,307.90 434.47,310.25 435.00,312.90C435.53,315.55 435.98,318.95 436.40,321.40C436.82,323.85 436.88,325.08 437.50,327.60C438.12,330.12 439.13,333.52 440.10,336.50C441.07,339.48 442.13,342.73 443.30,345.50C444.47,348.27 445.83,351.10 447.10,353.10C448.37,355.10 449.42,356.33 450.90,357.50C452.38,358.67 453.88,359.52 456.00,360.10C458.12,360.68 461.27,360.80 463.60,361.00C465.93,361.20 467.27,361.27 470.00,361.30C472.73,361.33 475.00,361.20 480.00,361.20C485.00,361.20 493.33,361.27 500.00,361.30C506.67,361.33 514.33,361.37 520.00,361.40C525.67,361.43 531.67,361.48 534.00,361.50"/>
<path stroke-width="1.25" d="M55.50,304.00C56.25,303.62 58.70,302.50 60.00,301.70C61.30,300.90 62.05,300.18 63.30,299.20C64.55,298.22 66.10,296.37 67.50,295.80C68.90,295.23 70.32,295.93 71.70,295.80C73.08,295.67 74.55,295.68 75.80,295.00C77.05,294.32 77.95,292.82 79.20,291.70C80.45,290.58 82.05,288.03 83.30,288.30C84.55,288.57 85.45,291.48 86.70,293.30C87.95,295.12 89.42,298.08 90.80,299.20C92.18,300.32 93.47,300.00 95.00,300.00C96.53,300.00 98.33,299.75 100.00,299.20C101.67,298.65 103.37,297.52 105.00,296.70C106.63,295.88 108.22,295.00 109.80,294.30C111.38,293.60 112.92,293.10 114.50,292.50C116.08,291.90 117.72,291.40 119.30,290.70C120.88,290.00 122.72,289.48 124.00,288.30C125.28,287.12 126.00,285.38 127.00,283.60C128.00,281.82 128.90,279.78 130.00,277.60C131.10,275.42 132.52,273.08 133.60,270.50C134.68,267.92 135.52,264.68 136.50,262.10C137.48,259.52 138.78,257.02 139.50,255.00C140.22,252.98 140.17,252.22 140.80,250.00C141.43,247.78 142.32,244.48 143.30,241.70C144.28,238.92 145.45,236.37 146.70,233.30C147.95,230.23 149.42,226.63 150.80,223.30C152.18,219.97 153.60,216.63 155.00,213.30C156.40,209.97 157.82,206.22 159.20,203.30C160.58,200.38 161.92,197.60 163.30,195.80C164.68,194.00 166.10,192.63 167.50,192.50C168.90,192.37 170.45,193.47 171.70,195.00C172.95,196.53 173.90,199.20 175.00,201.70C176.10,204.20 177.18,207.23 178.30,210.00C179.42,212.77 180.58,215.80 181.70,218.30C182.82,220.80 183.85,222.45 185.00,225.00C186.15,227.55 187.53,230.75 188.60,233.60C189.67,236.45 190.45,238.77 191.40,242.10C192.35,245.43 193.47,249.55 194.30,253.60C195.13,257.65 195.80,262.60 196.40,266.40C197.00,270.20 197.53,274.13 197.90,276.40C198.27,278.67 198.17,277.02 198.60,280.00C199.03,282.98 199.90,289.53 200.50,294.30C201.10,299.07 201.77,304.65 202.20,308.60C202.63,312.55 202.68,314.60 203.10,318.00C203.52,321.40 204.18,325.67 204.70,329.00C205.22,332.33 205.75,335.83 206.20,338.00C206.65,340.17 206.90,340.33 207.40,342.00C207.90,343.67 208.60,346.33 209.20,348.00C209.80,349.67 210.28,350.75 211.00,352.00C211.72,353.25 212.50,354.47 213.50,355.50C214.50,356.53 215.58,357.48 217.00,358.20C218.42,358.92 220.17,359.42 222.00,359.80C223.83,360.18 225.00,360.36 228.00,360.50C231.00,360.64 236.33,360.60 240.00,360.62C243.67,360.64 246.67,360.64 250.00,360.62C253.33,360.61 256.67,360.53 260.00,360.53C263.33,360.53 267.33,360.61 270.00,360.62C272.67,360.64 274.33,360.62 276.00,360.62C277.67,360.62 279.17,360.63 280.00,360.63C280.83,360.64 280.50,360.71 281.00,360.63C281.50,360.54 282.33,360.36 283.00,360.14C283.67,359.91 284.42,359.52 285.00,359.28C285.58,359.05 286.07,358.83 286.50,358.72C286.93,358.60 287.23,358.57 287.60,358.57C287.97,358.57 288.30,358.61 288.70,358.72C289.10,358.82 289.42,358.96 290.00,359.19C290.58,359.43 291.50,359.90 292.20,360.14C292.90,360.38 293.57,360.47 294.20,360.63C294.83,360.78 294.73,361.03 296.00,361.06C297.27,361.09 299.62,361.00 301.80,360.82C303.98,360.63 306.67,360.21 309.10,359.95C311.53,359.70 313.98,359.49 316.40,359.28C318.82,359.07 321.18,358.94 323.60,358.70C326.02,358.46 328.47,358.06 330.90,357.84C333.33,357.62 336.27,357.63 338.20,357.36C340.13,357.09 341.05,356.75 342.50,356.21C343.95,355.66 345.43,355.02 346.90,354.10C348.37,353.17 349.97,351.66 351.30,350.64C352.63,349.62 353.87,348.46 354.90,347.95C355.93,347.44 356.35,347.44 357.50,347.57C358.65,347.70 360.17,348.10 361.80,348.72C363.43,349.34 365.48,350.64 367.30,351.31C369.12,351.98 370.88,352.46 372.70,352.75C374.52,353.04 376.38,353.18 378.20,353.04C380.02,352.90 382.22,352.26 383.60,351.89C384.98,351.52 384.92,351.42 386.50,350.83C388.08,350.24 390.92,349.17 393.10,348.34C395.28,347.50 397.85,346.67 399.60,345.84C401.35,345.01 402.50,344.29 403.60,343.34C404.70,342.40 405.33,341.76 406.20,340.18C407.07,338.59 408.03,335.94 408.80,333.84C409.57,331.74 410.15,330.11 410.80,327.60C411.45,325.09 412.05,321.70 412.70,318.77C413.35,315.84 414.03,312.91 414.70,310.03C415.37,307.15 416.07,304.03 416.70,301.49C417.33,298.94 417.87,296.61 418.50,294.77C419.13,292.93 419.83,291.49 420.50,290.45C421.17,289.41 421.92,288.93 422.50,288.53C423.08,288.13 423.50,288.05 424.00,288.05C424.50,288.05 424.92,288.13 425.50,288.53C426.08,288.93 426.82,289.33 427.50,290.45C428.18,291.57 428.95,293.49 429.60,295.25C430.25,297.01 430.80,298.93 431.40,301.01C432.00,303.09 432.60,305.42 433.20,307.73C433.80,310.03 434.47,312.29 435.00,314.83C435.53,317.38 435.98,320.64 436.40,322.99C436.82,325.34 436.88,326.53 437.50,328.94C438.12,331.36 439.13,334.62 440.10,337.49C441.07,340.35 442.13,343.47 443.30,346.13C444.47,348.78 445.83,351.50 447.10,353.42C448.37,355.34 449.42,356.53 450.90,357.65C452.38,358.77 453.88,359.58 456.00,360.14C458.12,360.70 461.27,360.82 463.60,361.01C465.93,361.20 467.27,361.26 470.00,361.30C472.73,361.33 475.00,361.20 480.00,361.20C485.00,361.20 493.33,361.26 500.00,361.30C506.67,361.33 514.33,361.36 520.00,361.39C525.67,361.42 531.67,361.47 534.00,361.49"/>
<path stroke-width="1.25" d="M55.50,270.20C55.63,270.17 55.55,270.45 56.30,270.00C57.05,269.55 58.83,268.88 60.00,267.50C61.17,266.12 62.18,263.92 63.30,261.70C64.42,259.48 65.72,255.65 66.70,254.20C67.68,252.75 68.37,253.08 69.20,253.00C70.03,252.92 70.95,253.17 71.70,253.70C72.45,254.23 73.02,256.03 73.70,256.20C74.38,256.37 75.03,255.60 75.80,254.70C76.57,253.80 77.32,251.87 78.30,250.80C79.28,249.73 80.72,248.65 81.70,248.30C82.68,247.95 83.52,247.87 84.20,248.70C84.88,249.53 85.12,251.00 85.80,253.30C86.48,255.60 87.47,259.72 88.30,262.50C89.13,265.28 89.97,267.97 90.80,270.00C91.63,272.03 92.32,273.73 93.30,274.70C94.28,275.67 95.58,275.47 96.70,275.80C97.82,276.13 98.90,276.70 100.00,276.70C101.10,276.70 102.18,276.22 103.30,275.80C104.42,275.38 105.62,274.88 106.70,274.20C107.78,273.52 108.50,272.92 109.80,271.70C111.10,270.48 113.12,268.68 114.50,266.90C115.88,265.12 117.10,262.98 118.10,261.00C119.10,259.02 119.63,257.12 120.50,255.00C121.37,252.88 122.27,251.08 123.30,248.30C124.33,245.52 125.72,241.35 126.70,238.30C127.68,235.25 128.23,233.60 129.20,230.00C130.17,226.40 131.53,220.87 132.50,216.70C133.47,212.53 134.17,209.45 135.00,205.00C135.83,200.55 136.80,193.88 137.50,190.00C138.20,186.12 138.65,184.75 139.20,181.70C139.75,178.65 140.25,175.03 140.80,171.70C141.35,168.37 141.93,165.03 142.50,161.70C143.07,158.37 143.65,154.77 144.20,151.70C144.75,148.63 145.12,146.63 145.80,143.30C146.48,139.97 147.60,135.30 148.30,131.70C149.00,128.10 149.30,125.32 150.00,121.70C150.70,118.08 151.67,113.62 152.50,110.00C153.33,106.38 154.17,103.33 155.00,100.00C155.83,96.67 156.67,93.62 157.50,90.00C158.33,86.38 159.17,81.92 160.00,78.30C160.83,74.68 161.67,71.13 162.50,68.30C163.33,65.47 164.17,62.97 165.00,61.30C165.83,59.63 166.67,58.52 167.50,58.30C168.33,58.08 169.17,59.02 170.00,60.00C170.83,60.98 171.80,62.53 172.50,64.20C173.20,65.87 173.65,67.65 174.20,70.00C174.75,72.35 175.12,74.97 175.80,78.30C176.48,81.63 177.47,86.10 178.30,90.00C179.13,93.90 179.97,98.08 180.80,101.70C181.63,105.32 182.60,108.93 183.30,111.70C184.00,114.47 184.43,116.08 185.00,118.30C185.57,120.52 186.00,122.22 186.70,125.00C187.40,127.78 188.52,131.95 189.20,135.00C189.88,138.05 190.25,140.25 190.80,143.30C191.35,146.35 192.00,149.13 192.50,153.30C193.00,157.47 193.38,163.62 193.80,168.30C194.22,172.98 194.57,177.07 195.00,181.40C195.43,185.73 195.92,190.02 196.40,194.30C196.88,198.58 197.42,202.10 197.90,207.10C198.38,212.10 198.95,218.93 199.30,224.30C199.65,229.67 199.77,234.42 200.00,239.30C200.23,244.18 200.42,248.83 200.70,253.60C200.98,258.37 201.33,263.50 201.70,267.90C202.07,272.30 202.47,275.60 202.90,280.00C203.33,284.40 203.87,289.53 204.30,294.30C204.73,299.07 205.10,304.15 205.50,308.60C205.90,313.05 206.37,317.43 206.70,321.00C207.03,324.57 207.12,326.83 207.50,330.00C207.88,333.17 208.57,337.50 209.00,340.00C209.43,342.50 209.60,343.33 210.10,345.00C210.60,346.67 211.32,348.50 212.00,350.00C212.68,351.50 213.37,352.83 214.20,354.00C215.03,355.17 215.87,356.13 217.00,357.00C218.13,357.87 219.17,358.63 221.00,359.20C222.83,359.77 224.83,360.16 228.00,360.40C231.17,360.64 236.33,360.60 240.00,360.64C243.67,360.68 246.67,360.66 250.00,360.64C253.33,360.63 256.67,360.55 260.00,360.55C263.33,360.55 267.33,360.63 270.00,360.64C272.67,360.66 274.33,360.64 276.00,360.64C277.67,360.64 279.17,360.65 280.00,360.65C280.83,360.65 280.50,360.72 281.00,360.64C281.50,360.55 282.33,360.37 283.00,360.15C283.67,359.93 284.42,359.53 285.00,359.29C285.58,359.06 286.07,358.85 286.50,358.73C286.93,358.61 287.23,358.58 287.60,358.58C287.97,358.58 288.30,358.62 288.70,358.73C289.10,358.83 289.42,358.97 290.00,359.20C290.58,359.44 291.50,359.91 292.20,360.15C292.90,360.39 293.57,360.48 294.20,360.64C294.83,360.79 294.73,361.03 296.00,361.07C297.27,361.10 299.62,361.01 301.80,360.83C303.98,360.65 306.67,360.24 309.10,359.99C311.53,359.74 313.98,359.54 316.40,359.34C318.82,359.14 321.18,359.01 323.60,358.78C326.02,358.55 328.47,358.16 330.90,357.94C333.33,357.73 336.27,357.74 338.20,357.48C340.13,357.22 341.05,356.89 342.50,356.36C343.95,355.84 345.43,355.22 346.90,354.32C348.37,353.42 349.97,351.96 351.30,350.97C352.63,349.98 353.87,348.86 354.90,348.37C355.93,347.87 356.35,347.87 357.50,347.99C358.65,348.12 360.17,348.51 361.80,349.11C363.43,349.71 365.48,350.97 367.30,351.62C369.12,352.27 370.88,352.74 372.70,353.02C374.52,353.29 376.38,353.43 378.20,353.30C380.02,353.16 382.22,352.54 383.60,352.18C384.98,351.82 384.92,351.73 386.50,351.16C388.08,350.58 390.92,349.54 393.10,348.74C395.28,347.93 397.85,347.13 399.60,346.32C401.35,345.51 402.50,344.82 403.60,343.90C404.70,342.99 405.33,342.37 406.20,340.83C407.07,339.30 408.03,336.73 408.80,334.69C409.57,332.66 410.15,331.08 410.80,328.65C411.45,326.22 412.05,322.93 412.70,320.09C413.35,317.26 414.03,314.42 414.70,311.63C415.37,308.84 416.07,305.82 416.70,303.35C417.33,300.89 417.87,298.63 418.50,296.84C419.13,295.06 419.83,293.67 420.50,292.66C421.17,291.65 421.92,291.19 422.50,290.80C423.08,290.41 423.50,290.33 424.00,290.33C424.50,290.33 424.92,290.41 425.50,290.80C426.08,291.19 426.82,291.57 427.50,292.66C428.18,293.74 428.95,295.60 429.60,297.31C430.25,299.01 430.80,300.87 431.40,302.89C432.00,304.90 432.60,307.17 433.20,309.40C433.80,311.63 434.47,313.82 435.00,316.28C435.53,318.75 435.98,321.91 436.40,324.19C436.82,326.46 436.88,327.61 437.50,329.95C438.12,332.29 439.13,335.45 440.10,338.23C441.07,341.00 442.13,344.03 443.30,346.60C444.47,349.17 445.83,351.81 447.10,353.67C448.37,355.53 449.42,356.67 450.90,357.76C452.38,358.84 453.88,359.63 456.00,360.18C458.12,360.72 461.27,360.83 463.60,361.01C465.93,361.20 467.27,361.26 470.00,361.29C472.73,361.32 475.00,361.20 480.00,361.20C485.00,361.20 493.33,361.26 500.00,361.29C506.67,361.32 514.33,361.35 520.00,361.39C525.67,361.42 531.67,361.46 534.00,361.48"/>
</g>
<g stroke="#000" stroke-width="2" fill="none">
<rect x="55" y="10" width="480" height="355"/>
<line x1="48" y1="361.0" x2="55" y2="361.0"/>
<line x1="51" y1="325.9" x2="55" y2="325.9"/>
<line x1="48" y1="290.8" x2="55" y2="290.8"/>
<line x1="51" y1="255.7" x2="55" y2="255.7"/>
<line x1="48" y1="220.6" x2="55" y2="220.6"/>
<line x1="51" y1="185.5" x2="55" y2="185.5"/>
<line x1="48" y1="150.4" x2="55" y2="150.4"/>
<line x1="51" y1="115.3" x2="55" y2="115.3"/>
<line x1="48" y1="80.2" x2="55" y2="80.2"/>
<line x1="51" y1="45.1" x2="55" y2="45.1"/>
<line x1="48" y1="10.0" x2="55" y2="10.0"/>
<line x1="55.0" y1="365" x2="55.0" y2="372"/>
<line x1="103.0" y1="365" x2="103.0" y2="369"/>
<line x1="151.0" y1="365" x2="151.0" y2="372"/>
<line x1="199.0" y1="365" x2="199.0" y2="369"/>
<line x1="247.0" y1="365" x2="247.0" y2="372"/>
<line x1="295.0" y1="365" x2="295.0" y2="369"/>
<line x1="343.0" y1="365" x2="343.0" y2="372"/>
<line x1="391.0" y1="365" x2="391.0" y2="369"/>
<line x1="439.0" y1="365" x2="439.0" y2="372"/>
<line x1="487.0" y1="365" x2="487.0" y2="369"/>
<line x1="535.0" y1="365" x2="535.0" y2="372"/>
</g>
<line x1="231.4" y1="61" x2="231.4" y2="301" stroke="#111" stroke-width="1.3"/>
<path d="M229.1,299.8 L233.7,299.8 L231.4,309.8 Z" fill="#111" stroke="#111" stroke-width="0.6" stroke-linejoin="round"/>
<g font-family="Liberation Sans, sans-serif" fill="#111" stroke="#111" stroke-width="0.25" style="opacity:0.999">
<text x="43.1" y="364.9" font-size="13.5" text-anchor="end">0.0</text>
<text x="43.1" y="294.7" font-size="13.5" text-anchor="end">0.2</text>
<text x="43.1" y="224.5" font-size="13.5" text-anchor="end">0.4</text>
<text x="43.1" y="154.3" font-size="13.5" text-anchor="end">0.6</text>
<text x="43.1" y="84.1" font-size="13.5" text-anchor="end">0.8</text>
<text x="43.1" y="13.9" font-size="13.5" text-anchor="end">1.0</text>
<text x="55.4" y="386.9" font-size="13.5" text-anchor="middle">300</text>
<text x="151.4" y="386.9" font-size="13.5" text-anchor="middle">400</text>
<text x="247.4" y="386.9" font-size="13.5" text-anchor="middle">500</text>
<text x="343.4" y="386.9" font-size="13.5" text-anchor="middle">600</text>
<text x="439.4" y="386.9" font-size="13.5" text-anchor="middle">700</text>
<text x="535.4" y="386.9" font-size="13.5" text-anchor="middle">800</text>
<text x="230.9" y="413.4" font-size="16" textLength="128.7" lengthAdjust="spacingAndGlyphs">Wavelength (nm)</text>
<text transform="translate(15.7,229.6) rotate(-90)" x="0" y="0" font-size="16.2" textLength="87.4" lengthAdjust="spacingAndGlyphs">Absorbance</text>
<text x="249.6" y="181.9" font-size="16" textLength="169.4" lengthAdjust="spacingAndGlyphs">20 cycles of 6 seconds</text>
</g>
</svg>
</body></html>
